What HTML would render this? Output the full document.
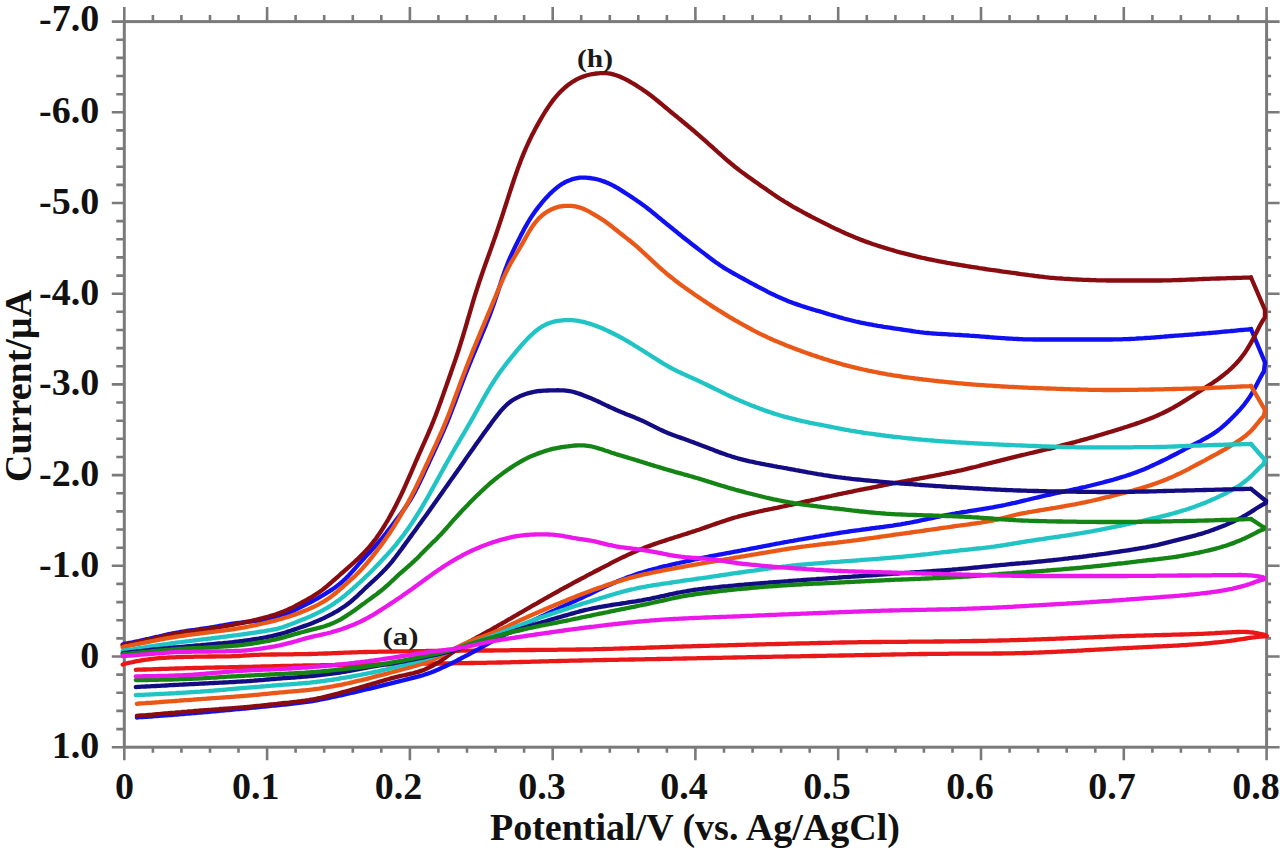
<!DOCTYPE html>
<html><head><meta charset="utf-8"><style>
html,body{margin:0;padding:0;background:#fff;}
svg{display:block}
.t{font-family:"Liberation Serif",serif;font-weight:bold;font-size:38px;fill:#111}
.ti{font-family:"Liberation Serif",serif;font-weight:bold;font-size:38px;fill:#111}
.lb{font-family:"Liberation Serif",serif;font-weight:bold;font-size:25px;fill:#1a1a1a}
</style></head><body>
<svg width="1280" height="852" viewBox="0 0 1280 852">
<rect width="1280" height="852" fill="#fff"/>
<g>
<rect x="124.3" y="21.6" width="1142.3" height="725.6" fill="none" stroke="#7a7a7a" stroke-width="3"/>
<path d="M124.3,747.2V760.2 M124.3,21.6V7.1 M152.9,747.2V752.7 M152.9,21.6V15.1 M181.4,747.2V752.7 M181.4,21.6V15.1 M210.0,747.2V752.7 M210.0,21.6V15.1 M238.5,747.2V752.7 M238.5,21.6V15.1 M267.1,747.2V760.2 M267.1,21.6V7.1 M295.6,747.2V752.7 M295.6,21.6V15.1 M324.2,747.2V752.7 M324.2,21.6V15.1 M352.8,747.2V752.7 M352.8,21.6V15.1 M381.3,747.2V752.7 M381.3,21.6V15.1 M409.9,747.2V760.2 M409.9,21.6V7.1 M438.4,747.2V752.7 M438.4,21.6V15.1 M467.0,747.2V752.7 M467.0,21.6V15.1 M495.5,747.2V752.7 M495.5,21.6V15.1 M524.1,747.2V752.7 M524.1,21.6V15.1 M552.7,747.2V760.2 M552.7,21.6V7.1 M581.2,747.2V752.7 M581.2,21.6V15.1 M609.8,747.2V752.7 M609.8,21.6V15.1 M638.3,747.2V752.7 M638.3,21.6V15.1 M666.9,747.2V752.7 M666.9,21.6V15.1 M695.4,747.2V760.2 M695.4,21.6V7.1 M724.0,747.2V752.7 M724.0,21.6V15.1 M752.6,747.2V752.7 M752.6,21.6V15.1 M781.1,747.2V752.7 M781.1,21.6V15.1 M809.7,747.2V752.7 M809.7,21.6V15.1 M838.2,747.2V760.2 M838.2,21.6V7.1 M866.8,747.2V752.7 M866.8,21.6V15.1 M895.4,747.2V752.7 M895.4,21.6V15.1 M923.9,747.2V752.7 M923.9,21.6V15.1 M952.5,747.2V752.7 M952.5,21.6V15.1 M981.0,747.2V760.2 M981.0,21.6V7.1 M1009.6,747.2V752.7 M1009.6,21.6V15.1 M1038.1,747.2V752.7 M1038.1,21.6V15.1 M1066.7,747.2V752.7 M1066.7,21.6V15.1 M1095.3,747.2V752.7 M1095.3,21.6V15.1 M1123.8,747.2V760.2 M1123.8,21.6V7.1 M1152.4,747.2V752.7 M1152.4,21.6V15.1 M1180.9,747.2V752.7 M1180.9,21.6V15.1 M1209.5,747.2V752.7 M1209.5,21.6V15.1 M1238.0,747.2V752.7 M1238.0,21.6V15.1 M1266.6,747.2V760.2 M1266.6,21.6V7.1 M124.3,21.6H111.8 M1266.6,21.6H1279.6 M124.3,39.7H116.3 M1266.6,39.7H1271.1 M124.3,57.9H116.3 M1266.6,57.9H1271.1 M124.3,76.0H116.3 M1266.6,76.0H1271.1 M124.3,94.2H116.3 M1266.6,94.2H1271.1 M124.3,112.3H111.8 M1266.6,112.3H1279.6 M124.3,130.4H116.3 M1266.6,130.4H1271.1 M124.3,148.6H116.3 M1266.6,148.6H1271.1 M124.3,166.7H116.3 M1266.6,166.7H1271.1 M124.3,184.9H116.3 M1266.6,184.9H1271.1 M124.3,203.0H111.8 M1266.6,203.0H1279.6 M124.3,221.1H116.3 M1266.6,221.1H1271.1 M124.3,239.3H116.3 M1266.6,239.3H1271.1 M124.3,257.4H116.3 M1266.6,257.4H1271.1 M124.3,275.6H116.3 M1266.6,275.6H1271.1 M124.3,293.7H111.8 M1266.6,293.7H1279.6 M124.3,311.8H116.3 M1266.6,311.8H1271.1 M124.3,330.0H116.3 M1266.6,330.0H1271.1 M124.3,348.1H116.3 M1266.6,348.1H1271.1 M124.3,366.3H116.3 M1266.6,366.3H1271.1 M124.3,384.4H111.8 M1266.6,384.4H1279.6 M124.3,402.5H116.3 M1266.6,402.5H1271.1 M124.3,420.7H116.3 M1266.6,420.7H1271.1 M124.3,438.8H116.3 M1266.6,438.8H1271.1 M124.3,457.0H116.3 M1266.6,457.0H1271.1 M124.3,475.1H111.8 M1266.6,475.1H1279.6 M124.3,493.2H116.3 M1266.6,493.2H1271.1 M124.3,511.4H116.3 M1266.6,511.4H1271.1 M124.3,529.5H116.3 M1266.6,529.5H1271.1 M124.3,547.7H116.3 M1266.6,547.7H1271.1 M124.3,565.8H111.8 M1266.6,565.8H1279.6 M124.3,583.9H116.3 M1266.6,583.9H1271.1 M124.3,602.1H116.3 M1266.6,602.1H1271.1 M124.3,620.2H116.3 M1266.6,620.2H1271.1 M124.3,638.4H116.3 M1266.6,638.4H1271.1 M124.3,656.5H111.8 M1266.6,656.5H1279.6 M124.3,674.6H116.3 M1266.6,674.6H1271.1 M124.3,692.8H116.3 M1266.6,692.8H1271.1 M124.3,710.9H116.3 M1266.6,710.9H1271.1 M124.3,729.1H116.3 M1266.6,729.1H1271.1 M124.3,747.2H111.8 M1266.6,747.2H1279.6" stroke="#7a7a7a" stroke-width="2.6" fill="none"/>
<path d="M122.7 664.6L124.7 663.6L126.7 663.3L128.7 662.9L130.7 662.5L132.7 662.1L134.7 661.6L136.7 661.2L138.7 660.9L140.7 660.5L142.7 660.2L144.7 659.9L146.7 659.6L148.7 659.3L150.7 659.0L152.7 658.8L154.7 658.6L156.7 658.4L158.7 658.2L160.7 658.0L162.7 657.9L164.7 657.8L166.7 657.6L168.7 657.5L170.7 657.4L172.7 657.3L174.7 657.3L176.7 657.2L178.7 657.1L180.7 657.1L182.7 657.0L184.7 656.9L186.7 656.9L188.7 656.9L190.7 656.8L192.7 656.8L194.7 656.7L196.7 656.7L198.7 656.7L200.7 656.6L202.7 656.6L204.7 656.6L206.7 656.6L208.7 656.5L210.7 656.5L212.7 656.5L214.7 656.5L216.7 656.4L218.7 656.4L220.7 656.4L222.7 656.4L224.7 656.4L226.7 656.3L228.7 656.3L230.7 656.3L232.7 656.2L234.7 656.2L236.7 656.1L238.7 656.0L240.7 655.8L242.7 655.7L244.7 655.5L246.7 655.4L248.7 655.3L250.7 655.1L252.7 655.0L254.7 654.9L256.7 654.9L258.7 654.8L260.7 654.7L262.7 654.7L264.7 654.6L266.7 654.6L268.7 654.6L270.7 654.5L272.7 654.5L274.7 654.5L276.7 654.5L278.7 654.4L280.7 654.4L282.7 654.4L284.7 654.4L286.7 654.3L288.7 654.3L290.7 654.3L292.7 654.3L294.7 654.2L296.7 654.2L298.7 654.2L300.7 654.2L302.7 654.1L304.7 654.1L306.7 654.1L308.7 654.0L310.7 654.0L312.7 653.9L314.7 653.9L316.7 653.8L318.7 653.7L320.7 653.7L322.7 653.6L324.7 653.5L326.7 653.5L328.7 653.4L330.7 653.3L332.7 653.2L334.7 653.2L336.7 653.1L338.7 653.0L340.7 652.9L342.7 652.8L344.7 652.7L346.7 652.7L348.7 652.6L350.7 652.5L352.7 652.4L354.7 652.4L356.7 652.3L358.7 652.2L360.7 652.2L362.7 652.1L364.7 652.0L366.7 652.0L368.7 651.9L370.7 651.9L372.7 651.9L374.7 651.8L376.7 651.8L378.7 651.7L380.7 651.7L382.7 651.7L384.7 651.6L386.7 651.6L388.7 651.6L390.7 651.5L392.7 651.5L394.7 651.5L396.7 651.4L398.7 651.4L400.7 651.4L402.7 651.3L404.7 651.3L406.7 651.3L408.7 651.3L410.7 651.2L412.7 651.2L414.7 651.2L416.7 651.2L418.7 651.1L420.7 651.1L422.7 651.1L424.7 651.1L426.7 651.0L428.7 651.0L430.7 651.0L432.7 651.0L434.7 651.0L436.7 650.9L438.7 650.9L440.7 650.9L442.7 650.9L444.7 650.9L446.7 650.8L448.7 650.8L450.7 650.8L452.7 650.8L454.7 650.8L456.7 650.8L458.7 650.8L460.7 650.7L462.7 650.7L464.7 650.7L466.7 650.7L468.7 650.7L470.7 650.7L472.7 650.6L474.7 650.6L476.7 650.6L478.7 650.6L480.7 650.6L482.7 650.6L484.7 650.5L486.7 650.5L488.7 650.5L490.7 650.5L492.7 650.5L494.7 650.4L496.7 650.4L498.7 650.4L500.7 650.4L502.7 650.3L504.7 650.3L506.7 650.3L508.7 650.3L510.7 650.2L512.7 650.2L514.7 650.2L516.7 650.2L518.7 650.1L520.7 650.1L522.7 650.1L524.7 650.1L526.7 650.0L528.7 650.0L530.7 650.0L532.7 650.0L534.7 650.0L536.7 649.9L538.7 649.9L540.7 649.9L542.7 649.9L544.7 649.9L546.7 649.8L548.7 649.8L550.7 649.8L552.7 649.8L554.7 649.8L556.7 649.8L558.7 649.7L560.7 649.7L562.7 649.7L564.7 649.7L566.7 649.7L568.7 649.6L570.7 649.6L572.7 649.6L574.7 649.6L576.7 649.5L578.7 649.5L580.7 649.5L582.7 649.4L584.7 649.4L586.7 649.4L588.7 649.3L590.7 649.3L592.7 649.3L594.7 649.2L596.7 649.2L598.7 649.1L600.7 649.1L602.7 649.0L604.7 649.0L606.7 648.9L608.7 648.9L610.7 648.8L612.7 648.8L614.7 648.7L616.7 648.7L618.7 648.6L620.7 648.5L622.7 648.5L624.7 648.4L626.7 648.3L628.7 648.3L630.7 648.2L632.7 648.2L634.7 648.1L636.7 648.0L638.7 648.0L640.7 647.9L642.7 647.8L644.7 647.8L646.7 647.7L648.7 647.6L650.7 647.5L652.7 647.5L654.7 647.4L656.7 647.3L658.7 647.3L660.7 647.2L662.7 647.1L664.7 647.1L666.7 647.0L668.7 646.9L670.7 646.9L672.7 646.8L674.7 646.7L676.7 646.7L678.7 646.6L680.7 646.6L682.7 646.5L684.7 646.4L686.7 646.4L688.7 646.3L690.7 646.3L692.7 646.2L694.7 646.1L696.7 646.1L698.7 646.0L700.7 646.0L702.7 645.9L704.7 645.9L706.7 645.8L708.7 645.8L710.7 645.7L712.7 645.6L714.7 645.6L716.7 645.5L718.7 645.5L720.7 645.4L722.7 645.4L724.7 645.3L726.7 645.3L728.7 645.2L730.7 645.2L732.7 645.1L734.7 645.1L736.7 645.0L738.7 644.9L740.7 644.9L742.7 644.8L744.7 644.8L746.7 644.7L748.7 644.7L750.7 644.6L752.7 644.6L754.7 644.5L756.7 644.5L758.7 644.4L760.7 644.4L762.7 644.3L764.7 644.3L766.7 644.2L768.7 644.2L770.7 644.1L772.7 644.1L774.7 644.1L776.7 644.0L778.7 644.0L780.7 643.9L782.7 643.9L784.7 643.8L786.7 643.8L788.7 643.7L790.7 643.7L792.7 643.6L794.7 643.6L796.7 643.5L798.7 643.5L800.7 643.4L802.7 643.4L804.7 643.3L806.7 643.3L808.7 643.3L810.7 643.2L812.7 643.2L814.7 643.1L816.7 643.1L818.7 643.0L820.7 643.0L822.7 642.9L824.7 642.9L826.7 642.8L828.7 642.8L830.7 642.8L832.7 642.7L834.7 642.7L836.7 642.6L838.7 642.6L840.7 642.5L842.7 642.5L844.7 642.5L846.7 642.4L848.7 642.4L850.7 642.4L852.7 642.3L854.7 642.3L856.7 642.3L858.7 642.2L860.7 642.2L862.7 642.2L864.7 642.1L866.7 642.1L868.7 642.1L870.7 642.1L872.7 642.0L874.7 642.0L876.7 642.0L878.7 642.0L880.7 642.0L882.7 641.9L884.7 641.9L886.7 641.9L888.7 641.9L890.7 641.9L892.7 641.8L894.7 641.8L896.7 641.8L898.7 641.8L900.7 641.8L902.7 641.8L904.7 641.8L906.7 641.8L908.7 641.7L910.7 641.7L912.7 641.7L914.7 641.7L916.7 641.7L918.7 641.7L920.7 641.7L922.7 641.6L924.7 641.6L926.7 641.6L928.7 641.6L930.7 641.6L932.7 641.6L934.7 641.5L936.7 641.5L938.7 641.5L940.7 641.5L942.7 641.5L944.7 641.4L946.7 641.4L948.7 641.4L950.7 641.4L952.7 641.3L954.7 641.3L956.7 641.3L958.7 641.3L960.7 641.2L962.7 641.2L964.7 641.2L966.7 641.1L968.7 641.1L970.7 641.1L972.7 641.0L974.7 641.0L976.7 641.0L978.7 640.9L980.7 640.9L982.7 640.9L984.7 640.8L986.7 640.8L988.7 640.7L990.7 640.7L992.7 640.7L994.7 640.6L996.7 640.6L998.7 640.5L1000.7 640.5L1002.7 640.4L1004.7 640.4L1006.7 640.3L1008.7 640.3L1010.7 640.2L1012.7 640.2L1014.7 640.1L1016.7 640.1L1018.7 640.0L1020.7 639.9L1022.7 639.9L1024.7 639.8L1026.7 639.8L1028.7 639.7L1030.7 639.6L1032.7 639.6L1034.7 639.5L1036.7 639.4L1038.7 639.4L1040.7 639.3L1042.7 639.2L1044.7 639.1L1046.7 639.1L1048.7 639.0L1050.7 638.9L1052.7 638.8L1054.7 638.8L1056.7 638.7L1058.7 638.6L1060.7 638.5L1062.7 638.5L1064.7 638.4L1066.7 638.3L1068.7 638.2L1070.7 638.1L1072.7 638.1L1074.7 638.0L1076.7 637.9L1078.7 637.8L1080.7 637.7L1082.7 637.7L1084.7 637.6L1086.7 637.5L1088.7 637.4L1090.7 637.3L1092.7 637.3L1094.7 637.2L1096.7 637.1L1098.7 637.0L1100.7 637.0L1102.7 636.9L1104.7 636.8L1106.7 636.7L1108.7 636.7L1110.7 636.6L1112.7 636.5L1114.7 636.4L1116.7 636.4L1118.7 636.3L1120.7 636.2L1122.7 636.2L1124.7 636.1L1126.7 636.0L1128.7 636.0L1130.7 635.9L1132.7 635.9L1134.7 635.8L1136.7 635.7L1138.7 635.7L1140.7 635.6L1142.7 635.6L1144.7 635.5L1146.7 635.4L1148.7 635.4L1150.7 635.3L1152.7 635.3L1154.7 635.2L1156.7 635.2L1158.7 635.1L1160.7 635.1L1162.7 635.0L1164.7 635.0L1166.7 634.9L1168.7 634.9L1170.7 634.8L1172.7 634.7L1174.7 634.7L1176.7 634.6L1178.7 634.6L1180.7 634.5L1182.7 634.5L1184.7 634.4L1186.7 634.3L1188.7 634.3L1190.7 634.2L1192.7 634.1L1194.7 634.1L1196.7 634.0L1198.7 633.9L1200.7 633.8L1202.7 633.8L1204.7 633.7L1206.7 633.6L1208.7 633.5L1210.7 633.4L1212.7 633.3L1214.7 633.2L1216.7 633.0L1218.7 632.9L1220.7 632.8L1222.7 632.7L1224.7 632.6L1226.7 632.5L1228.7 632.4L1230.7 632.3L1232.7 632.2L1234.7 632.1L1236.7 632.0L1238.7 632.0L1240.7 631.9L1242.7 631.9L1244.7 631.9L1246.7 632.0L1248.7 632.1L1250.7 632.3L1252.7 632.5L1254.7 632.8L1256.7 633.2L1258.7 633.6L1260.7 634.0L1262.7 634.4L1264.7 634.8L1266.6 635.9" stroke="#e81818" stroke-width="4.3" fill="none" stroke-linejoin="round" stroke-linecap="round"/>
<path d="M1266.6 635.9L1265.8 636.2L1263.8 636.3L1261.8 636.5L1259.8 636.7L1257.8 636.9L1255.8 637.1L1253.8 637.4L1251.8 637.6L1249.8 637.9L1247.8 638.2L1245.8 638.5L1243.8 638.8L1241.8 639.1L1239.8 639.4L1237.8 639.7L1235.8 640.0L1233.8 640.3L1231.8 640.6L1229.8 640.9L1227.8 641.1L1225.8 641.4L1223.8 641.6L1221.8 641.9L1219.8 642.1L1217.8 642.3L1215.8 642.5L1213.8 642.7L1211.8 642.9L1209.8 643.1L1207.8 643.3L1205.8 643.5L1203.8 643.7L1201.8 643.8L1199.8 644.0L1197.8 644.1L1195.8 644.3L1193.8 644.4L1191.8 644.6L1189.8 644.7L1187.8 644.8L1185.8 645.0L1183.8 645.1L1181.8 645.2L1179.8 645.3L1177.8 645.5L1175.8 645.6L1173.8 645.7L1171.8 645.8L1169.8 645.9L1167.8 646.0L1165.8 646.1L1163.8 646.2L1161.8 646.3L1159.8 646.4L1157.8 646.5L1155.8 646.6L1153.8 646.7L1151.8 646.8L1149.8 646.9L1147.8 647.0L1145.8 647.1L1143.8 647.2L1141.8 647.3L1139.8 647.4L1137.8 647.5L1135.8 647.6L1133.8 647.7L1131.8 647.8L1129.8 647.9L1127.8 648.0L1125.8 648.1L1123.8 648.2L1121.8 648.3L1119.8 648.4L1117.8 648.5L1115.8 648.6L1113.8 648.7L1111.8 648.8L1109.8 648.9L1107.8 649.0L1105.8 649.1L1103.8 649.3L1101.8 649.4L1099.8 649.5L1097.8 649.6L1095.8 649.7L1093.8 649.8L1091.8 649.9L1089.8 650.0L1087.8 650.1L1085.8 650.2L1083.8 650.3L1081.8 650.5L1079.8 650.6L1077.8 650.7L1075.8 650.8L1073.8 650.9L1071.8 651.0L1069.8 651.1L1067.8 651.2L1065.8 651.3L1063.8 651.4L1061.8 651.5L1059.8 651.6L1057.8 651.7L1055.8 651.8L1053.8 651.9L1051.8 652.0L1049.8 652.1L1047.8 652.2L1045.8 652.2L1043.8 652.3L1041.8 652.4L1039.8 652.5L1037.8 652.6L1035.8 652.6L1033.8 652.7L1031.8 652.8L1029.8 652.8L1027.8 652.9L1025.8 653.0L1023.8 653.0L1021.8 653.1L1019.8 653.1L1017.8 653.2L1015.8 653.2L1013.8 653.3L1011.8 653.3L1009.8 653.4L1007.8 653.4L1005.8 653.4L1003.8 653.4L1001.8 653.5L999.8 653.5L997.8 653.5L995.8 653.5L993.8 653.5L991.8 653.6L989.8 653.6L987.8 653.6L985.8 653.6L983.8 653.6L981.8 653.6L979.8 653.6L977.8 653.6L975.8 653.6L973.8 653.6L971.8 653.6L969.8 653.7L967.8 653.7L965.8 653.7L963.8 653.7L961.8 653.7L959.8 653.7L957.8 653.7L955.8 653.7L953.8 653.7L951.8 653.7L949.8 653.7L947.8 653.8L945.8 653.8L943.8 653.8L941.8 653.8L939.8 653.8L937.8 653.8L935.8 653.8L933.8 653.9L931.8 653.9L929.8 653.9L927.8 653.9L925.8 654.0L923.8 654.0L921.8 654.0L919.8 654.0L917.8 654.1L915.8 654.1L913.8 654.1L911.8 654.2L909.8 654.2L907.8 654.2L905.8 654.3L903.8 654.3L901.8 654.3L899.8 654.4L897.8 654.4L895.8 654.4L893.8 654.5L891.8 654.5L889.8 654.6L887.8 654.6L885.8 654.6L883.8 654.7L881.8 654.7L879.8 654.8L877.8 654.8L875.8 654.8L873.8 654.9L871.8 654.9L869.8 655.0L867.8 655.0L865.8 655.0L863.8 655.1L861.8 655.1L859.8 655.2L857.8 655.2L855.8 655.2L853.8 655.3L851.8 655.3L849.8 655.3L847.8 655.4L845.8 655.4L843.8 655.5L841.8 655.5L839.8 655.5L837.8 655.6L835.8 655.6L833.8 655.6L831.8 655.7L829.8 655.7L827.8 655.7L825.8 655.8L823.8 655.8L821.8 655.9L819.8 655.9L817.8 655.9L815.8 656.0L813.8 656.0L811.8 656.0L809.8 656.1L807.8 656.1L805.8 656.1L803.8 656.2L801.8 656.2L799.8 656.3L797.8 656.3L795.8 656.3L793.8 656.4L791.8 656.4L789.8 656.4L787.8 656.5L785.8 656.5L783.8 656.6L781.8 656.6L779.8 656.6L777.8 656.7L775.8 656.7L773.8 656.7L771.8 656.8L769.8 656.8L767.8 656.9L765.8 656.9L763.8 656.9L761.8 657.0L759.8 657.0L757.8 657.0L755.8 657.1L753.8 657.1L751.8 657.2L749.8 657.2L747.8 657.2L745.8 657.3L743.8 657.3L741.8 657.4L739.8 657.4L737.8 657.4L735.8 657.5L733.8 657.5L731.8 657.6L729.8 657.6L727.8 657.6L725.8 657.7L723.8 657.7L721.8 657.8L719.8 657.8L717.8 657.8L715.8 657.9L713.8 657.9L711.8 658.0L709.8 658.0L707.8 658.0L705.8 658.1L703.8 658.1L701.8 658.2L699.8 658.2L697.8 658.2L695.8 658.3L693.8 658.3L691.8 658.4L689.8 658.4L687.8 658.4L685.8 658.5L683.8 658.5L681.8 658.6L679.8 658.6L677.8 658.6L675.8 658.7L673.8 658.7L671.8 658.8L669.8 658.8L667.8 658.8L665.8 658.9L663.8 658.9L661.8 658.9L659.8 659.0L657.8 659.0L655.8 659.1L653.8 659.1L651.8 659.1L649.8 659.2L647.8 659.2L645.8 659.2L643.8 659.3L641.8 659.3L639.8 659.4L637.8 659.4L635.8 659.4L633.8 659.5L631.8 659.5L629.8 659.5L627.8 659.6L625.8 659.6L623.8 659.7L621.8 659.7L619.8 659.7L617.8 659.8L615.8 659.8L613.8 659.8L611.8 659.9L609.8 659.9L607.8 659.9L605.8 660.0L603.8 660.0L601.8 660.1L599.8 660.1L597.8 660.1L595.8 660.2L593.8 660.2L591.8 660.3L589.8 660.3L587.8 660.3L585.8 660.4L583.8 660.4L581.8 660.5L579.8 660.5L577.8 660.6L575.8 660.6L573.8 660.6L571.8 660.7L569.8 660.7L567.8 660.8L565.8 660.8L563.8 660.9L561.8 660.9L559.8 661.0L557.8 661.0L555.8 661.1L553.8 661.1L551.8 661.2L549.8 661.2L547.8 661.3L545.8 661.3L543.8 661.4L541.8 661.4L539.8 661.5L537.8 661.6L535.8 661.6L533.8 661.7L531.8 661.7L529.8 661.8L527.8 661.8L525.8 661.9L523.8 661.9L521.8 662.0L519.8 662.0L517.8 662.1L515.8 662.1L513.8 662.2L511.8 662.2L509.8 662.3L507.8 662.3L505.8 662.4L503.8 662.4L501.8 662.5L499.8 662.5L497.8 662.5L495.8 662.6L493.8 662.6L491.8 662.7L489.8 662.7L487.8 662.7L485.8 662.8L483.8 662.8L481.8 662.8L479.8 662.9L477.8 662.9L475.8 662.9L473.8 663.0L471.8 663.0L469.8 663.0L467.8 663.1L465.8 663.1L463.8 663.1L461.8 663.1L459.8 663.2L457.8 663.2L455.8 663.2L453.8 663.3L451.8 663.3L449.8 663.3L447.8 663.4L445.8 663.4L443.8 663.4L441.8 663.5L439.8 663.5L437.8 663.5L435.8 663.5L433.8 663.6L431.8 663.6L429.8 663.6L427.8 663.7L425.8 663.7L423.8 663.7L421.8 663.8L419.8 663.8L417.8 663.8L415.8 663.9L413.8 663.9L411.8 663.9L409.8 664.0L407.8 664.0L405.8 664.0L403.8 664.1L401.8 664.1L399.8 664.1L397.8 664.2L395.8 664.2L393.8 664.2L391.8 664.3L389.8 664.3L387.8 664.3L385.8 664.4L383.8 664.4L381.8 664.4L379.8 664.5L377.8 664.5L375.8 664.5L373.8 664.5L371.8 664.6L369.8 664.6L367.8 664.6L365.8 664.7L363.8 664.7L361.8 664.7L359.8 664.7L357.8 664.8L355.8 664.8L353.8 664.8L351.8 664.8L349.8 664.9L347.8 664.9L345.8 664.9L343.8 664.9L341.8 665.0L339.8 665.0L337.8 665.0L335.8 665.0L333.8 665.1L331.8 665.1L329.8 665.1L327.8 665.1L325.8 665.2L323.8 665.2L321.8 665.2L319.8 665.3L317.8 665.3L315.8 665.3L313.8 665.3L311.8 665.4L309.8 665.4L307.8 665.4L305.8 665.5L303.8 665.5L301.8 665.6L299.8 665.6L297.8 665.6L295.8 665.7L293.8 665.7L291.8 665.8L289.8 665.8L287.8 665.9L285.8 665.9L283.8 666.0L281.8 666.0L279.8 666.1L277.8 666.1L275.8 666.2L273.8 666.2L271.8 666.3L269.8 666.3L267.8 666.4L265.8 666.4L263.8 666.5L261.8 666.5L259.8 666.6L257.8 666.6L255.8 666.7L253.8 666.7L251.8 666.8L249.8 666.8L247.8 666.8L245.8 666.9L243.8 666.9L241.8 667.0L239.8 667.0L237.8 667.1L235.8 667.1L233.8 667.1L231.8 667.2L229.8 667.2L227.8 667.3L225.8 667.3L223.8 667.4L221.8 667.4L219.8 667.4L217.8 667.5L215.8 667.5L213.8 667.6L211.8 667.6L209.8 667.7L207.8 667.7L205.8 667.7L203.8 667.8L201.8 667.8L199.8 667.9L197.8 667.9L195.8 668.0L193.8 668.0L191.8 668.1L189.8 668.1L187.8 668.2L185.8 668.2L183.8 668.3L181.8 668.4L179.8 668.4L177.8 668.5L175.8 668.5L173.8 668.6L171.8 668.6L169.8 668.7L167.8 668.8L165.8 668.8L163.8 668.9L161.8 668.9L159.8 669.0L157.8 669.1L155.8 669.1L153.8 669.2L151.8 669.3L149.8 669.3L147.8 669.4L145.8 669.5L143.8 669.5L141.8 669.6L139.8 669.6L137.8 669.7L135.8 669.8" stroke="#e81818" stroke-width="4.3" fill="none" stroke-linejoin="round" stroke-linecap="round"/>
<path d="M122.7 644.5L124.7 643.7L126.7 643.4L128.7 643.0L130.7 642.7L132.7 642.3L134.7 641.8L136.7 641.4L138.7 641.0L140.7 640.5L142.7 640.1L144.7 639.7L146.7 639.2L148.7 638.8L150.7 638.3L152.7 637.9L154.7 637.4L156.7 636.9L158.7 636.5L160.7 636.0L162.7 635.6L164.7 635.1L166.7 634.7L168.7 634.2L170.7 633.8L172.7 633.4L174.7 633.0L176.7 632.6L178.7 632.3L180.7 631.9L182.7 631.6L184.7 631.3L186.7 631.0L188.7 630.7L190.7 630.4L192.7 630.1L194.7 629.9L196.7 629.6L198.7 629.3L200.7 629.0L202.7 628.7L204.7 628.4L206.7 628.1L208.7 627.8L210.7 627.5L212.7 627.2L214.7 626.8L216.7 626.5L218.7 626.1L220.7 625.7L222.7 625.4L224.7 625.0L226.7 624.7L228.7 624.3L230.7 624.0L232.7 623.7L234.7 623.4L236.7 623.1L238.7 622.8L240.7 622.6L242.7 622.3L244.7 622.1L246.7 621.9L248.7 621.7L250.7 621.5L252.7 621.3L254.7 621.1L256.7 620.9L258.7 620.7L260.7 620.4L262.7 620.2L264.7 619.9L266.7 619.5L268.7 619.1L270.7 618.7L272.7 618.3L274.7 617.8L276.7 617.2L278.7 616.6L280.7 616.0L282.7 615.3L284.7 614.5L286.7 613.7L288.7 612.8L290.7 611.9L292.7 611.0L294.7 610.1L296.7 609.1L298.7 608.1L300.7 607.1L302.7 606.1L304.7 605.1L306.7 604.1L308.7 603.1L310.7 602.0L312.7 601.0L314.7 599.9L316.7 598.8L318.7 597.6L320.7 596.5L322.7 595.3L324.7 594.2L326.7 592.9L328.7 591.7L330.7 590.4L332.7 589.1L334.7 587.7L336.7 586.2L338.7 584.6L340.7 583.0L342.7 581.3L344.2 579.9L345.7 578.4L347.2 576.9L348.7 575.4L350.2 573.8L351.7 572.1L353.2 570.5L354.7 568.8L356.2 567.1L357.7 565.4L359.2 563.7L360.7 562.0L362.2 560.3L363.7 558.7L365.2 557.1L366.7 555.4L368.2 553.8L369.7 552.2L371.2 550.6L372.7 548.9L374.2 547.3L375.7 545.6L377.2 543.9L378.7 542.2L380.2 540.4L381.7 538.7L383.2 536.8L384.7 535.0L386.2 533.1L387.7 531.1L389.2 529.2L390.7 527.2L392.2 525.2L393.7 523.2L395.2 521.2L396.7 519.3L398.2 517.3L399.7 515.3L401.2 513.3L402.7 511.2L404.2 509.1L405.7 507.0L407.2 504.7L408.7 502.4L410.2 500.0L411.7 497.5L412.7 495.8L413.7 494.0L414.7 492.2L415.7 490.3L416.7 488.3L417.7 486.4L418.7 484.4L419.7 482.3L420.7 480.2L421.7 478.1L422.7 476.0L423.7 473.9L424.7 471.7L425.7 469.6L426.7 467.4L427.7 465.3L428.7 463.1L429.7 460.9L430.7 458.8L431.7 456.6L432.7 454.5L433.7 452.3L434.7 450.2L435.7 448.0L436.7 445.9L437.7 443.7L438.7 441.5L439.7 439.4L440.7 437.1L441.7 434.9L442.7 432.7L443.7 430.4L444.7 428.0L445.7 425.7L446.7 423.3L447.7 420.9L448.7 418.4L449.7 415.9L450.7 413.3L451.7 410.8L452.7 408.1L453.7 405.5L454.7 402.9L455.7 400.2L456.7 397.5L457.7 394.8L458.7 392.1L459.7 389.5L460.7 386.8L461.7 384.2L462.7 381.5L463.7 378.9L464.7 376.3L465.7 373.8L466.7 371.2L467.7 368.7L468.7 366.2L469.7 363.7L470.7 361.3L471.7 358.8L472.7 356.4L473.7 354.0L474.7 351.6L475.7 349.2L476.7 346.8L477.7 344.4L478.7 342.1L479.7 339.7L480.7 337.3L481.7 334.9L482.7 332.5L483.7 330.1L484.7 327.7L485.7 325.3L486.7 322.8L487.7 320.3L488.7 317.8L489.7 315.2L490.7 312.6L491.7 309.8L492.7 307.1L493.7 304.2L494.7 301.3L495.7 298.4L496.7 295.3L497.7 292.3L498.7 289.2L499.7 286.1L500.7 283.1L501.7 280.0L502.7 277.0L503.7 274.1L504.7 271.3L505.7 268.5L506.7 265.9L507.7 263.3L508.7 260.9L509.7 258.5L510.7 256.3L511.7 254.1L512.7 251.9L513.7 249.8L514.7 247.8L515.7 245.7L516.7 243.7L517.7 241.7L518.7 239.7L519.7 237.7L520.7 235.8L521.7 233.8L522.7 231.9L523.7 230.0L524.7 228.1L525.7 226.3L526.7 224.6L528.2 222.0L529.7 219.5L531.2 217.2L532.7 214.9L534.2 212.7L535.7 210.6L537.2 208.6L538.7 206.7L540.2 204.8L541.7 202.9L543.2 201.2L544.7 199.4L546.2 197.8L547.7 196.2L549.2 194.6L550.7 193.1L552.2 191.7L553.7 190.3L555.7 188.6L557.7 187.0L559.7 185.6L561.7 184.2L563.7 183.0L565.7 181.9L567.7 181.0L569.7 180.2L571.7 179.4L573.7 178.8L575.7 178.4L577.7 178.0L579.7 177.7L581.7 177.6L583.7 177.6L585.7 177.6L587.7 177.8L589.7 178.0L591.7 178.3L593.7 178.6L595.7 179.0L597.7 179.5L599.7 180.0L601.7 180.7L603.7 181.4L605.7 182.1L607.7 183.0L609.7 183.9L611.7 184.9L613.7 185.9L615.7 187.0L617.7 188.2L619.7 189.4L621.7 190.6L623.7 191.9L625.7 193.2L627.7 194.5L629.7 195.8L631.7 197.1L633.7 198.5L635.7 199.8L637.7 201.2L639.7 202.6L641.7 204.0L643.7 205.4L645.7 206.9L647.7 208.5L649.7 210.0L651.7 211.6L653.7 213.3L655.7 214.9L657.7 216.6L659.7 218.2L661.7 219.9L663.7 221.5L665.7 223.1L667.7 224.8L669.7 226.4L671.7 228.0L673.7 229.6L675.7 231.2L677.7 232.9L679.7 234.5L681.7 236.1L683.7 237.7L685.7 239.3L687.7 240.8L689.7 242.4L691.7 244.0L693.7 245.5L695.7 247.0L697.7 248.6L699.7 250.1L701.7 251.6L703.7 253.1L705.7 254.6L707.7 256.2L709.7 257.7L711.7 259.2L713.7 260.7L715.7 262.2L717.7 263.6L719.7 265.0L721.7 266.3L723.7 267.6L725.7 268.8L727.7 270.0L729.7 271.2L731.7 272.4L733.7 273.5L735.7 274.6L737.7 275.7L739.7 276.8L741.7 277.9L743.7 279.0L745.7 280.1L747.7 281.2L749.7 282.3L751.7 283.4L753.7 284.4L755.7 285.5L757.7 286.6L759.7 287.6L761.7 288.7L763.7 289.7L765.7 290.7L767.7 291.8L769.7 292.8L771.7 293.8L773.7 294.7L775.7 295.7L777.7 296.6L779.7 297.5L781.7 298.4L783.7 299.3L785.7 300.1L787.7 300.9L789.7 301.7L791.7 302.4L793.7 303.2L795.7 303.9L797.7 304.6L799.7 305.3L801.7 306.0L803.7 306.6L805.7 307.2L807.7 307.9L809.7 308.5L811.7 309.1L813.7 309.7L815.7 310.3L817.7 310.8L819.7 311.4L821.7 312.0L823.7 312.6L825.7 313.2L827.7 313.9L829.7 314.5L831.7 315.0L833.7 315.6L835.7 316.2L837.7 316.8L839.7 317.4L841.7 317.9L843.7 318.5L845.7 319.0L847.7 319.5L849.7 320.0L851.7 320.5L853.7 321.0L855.7 321.5L857.7 321.9L859.7 322.4L861.7 322.8L863.7 323.2L865.7 323.6L867.7 324.0L869.7 324.3L871.7 324.7L873.7 325.1L875.7 325.4L877.7 325.8L879.7 326.1L881.7 326.4L883.7 326.8L885.7 327.1L887.7 327.4L889.7 327.7L891.7 328.0L893.7 328.3L895.7 328.6L897.7 328.9L899.7 329.2L901.7 329.5L903.7 329.8L905.7 330.1L907.7 330.4L909.7 330.7L911.7 331.0L913.7 331.3L915.7 331.6L917.7 331.8L919.7 332.1L921.7 332.3L923.7 332.6L925.7 332.8L927.7 333.0L929.7 333.2L931.7 333.3L933.7 333.5L935.7 333.6L937.7 333.8L939.7 333.9L941.7 334.0L943.7 334.1L945.7 334.2L947.7 334.3L949.7 334.5L951.7 334.6L953.7 334.7L955.7 334.8L957.7 334.9L959.7 335.0L961.7 335.1L963.7 335.3L965.7 335.4L967.7 335.5L969.7 335.7L971.7 335.8L973.7 335.9L975.7 336.1L977.7 336.2L979.7 336.4L981.7 336.6L983.7 336.7L985.7 336.9L987.7 337.0L989.7 337.2L991.7 337.3L993.7 337.5L995.7 337.6L997.7 337.8L999.7 337.9L1001.7 338.1L1003.7 338.2L1005.7 338.4L1007.7 338.5L1009.7 338.6L1011.7 338.7L1013.7 338.8L1015.7 338.9L1017.7 339.0L1019.7 339.1L1021.7 339.2L1023.7 339.3L1025.7 339.3L1027.7 339.4L1029.7 339.4L1031.7 339.4L1033.7 339.5L1035.7 339.5L1037.7 339.5L1039.7 339.5L1041.7 339.5L1043.7 339.5L1045.7 339.5L1047.7 339.5L1049.7 339.5L1051.7 339.5L1053.7 339.5L1055.7 339.5L1057.7 339.5L1059.7 339.5L1061.7 339.5L1063.7 339.5L1065.7 339.5L1067.7 339.5L1069.7 339.5L1071.7 339.5L1073.7 339.5L1075.7 339.5L1077.7 339.5L1079.7 339.5L1081.7 339.5L1083.7 339.5L1085.7 339.5L1087.7 339.5L1089.7 339.5L1091.7 339.5L1093.7 339.5L1095.7 339.5L1097.7 339.5L1099.7 339.5L1101.7 339.5L1103.7 339.5L1105.7 339.5L1107.7 339.5L1109.7 339.5L1111.7 339.5L1113.7 339.4L1115.7 339.4L1117.7 339.4L1119.7 339.3L1121.7 339.3L1123.7 339.2L1125.7 339.1L1127.7 339.1L1129.7 339.0L1131.7 338.9L1133.7 338.8L1135.7 338.7L1137.7 338.5L1139.7 338.4L1141.7 338.3L1143.7 338.2L1145.7 338.0L1147.7 337.9L1149.7 337.8L1151.7 337.6L1153.7 337.5L1155.7 337.3L1157.7 337.1L1159.7 337.0L1161.7 336.8L1163.7 336.7L1165.7 336.5L1167.7 336.4L1169.7 336.2L1171.7 336.0L1173.7 335.9L1175.7 335.7L1177.7 335.6L1179.7 335.4L1181.7 335.3L1183.7 335.1L1185.7 334.9L1187.7 334.8L1189.7 334.6L1191.7 334.5L1193.7 334.3L1195.7 334.2L1197.7 334.0L1199.7 333.9L1201.7 333.7L1203.7 333.5L1205.7 333.3L1207.7 333.2L1209.7 333.0L1211.7 332.8L1213.7 332.6L1215.7 332.5L1217.7 332.3L1219.7 332.1L1221.7 331.9L1223.7 331.7L1225.7 331.5L1227.7 331.3L1229.7 331.2L1231.7 331.0L1233.7 330.8L1235.7 330.6L1237.7 330.4L1239.7 330.2L1241.7 330.0L1243.7 329.8L1245.7 329.6L1247.7 329.5L1249.7 329.3L1251.0 329.0" stroke="#1010f0" stroke-width="4.3" fill="none" stroke-linejoin="round" stroke-linecap="round"/>
<path d="M1251.0 329.0L1265.0 362.5" stroke="#1010f0" stroke-width="4.3" fill="none" stroke-linejoin="round" stroke-linecap="round"/>
<path d="M1265.0 362.5L1263.9 371.5L1262.4 373.9L1261.4 375.7L1260.4 377.5L1259.4 379.4L1258.4 381.3L1257.4 383.2L1256.4 385.2L1255.4 387.1L1254.4 388.9L1253.4 390.7L1251.9 393.4L1250.4 395.8L1248.9 398.1L1247.4 400.3L1245.9 402.3L1244.4 404.3L1242.9 406.1L1241.4 407.9L1239.9 409.6L1238.4 411.2L1236.9 412.9L1235.4 414.4L1233.9 416.0L1232.4 417.5L1230.9 419.0L1229.4 420.4L1227.9 421.9L1226.4 423.3L1224.9 424.6L1222.9 426.4L1220.9 428.1L1218.9 429.6L1216.9 431.2L1214.9 432.6L1212.9 433.9L1210.9 435.2L1208.9 436.4L1206.9 437.5L1204.9 438.6L1202.9 439.7L1200.9 440.8L1198.9 441.8L1196.9 442.9L1194.9 443.9L1192.9 445.0L1190.9 446.0L1188.9 447.1L1186.9 448.2L1184.9 449.2L1182.9 450.3L1180.9 451.4L1178.9 452.4L1176.9 453.5L1174.9 454.5L1172.9 455.5L1170.9 456.5L1168.9 457.6L1166.9 458.6L1164.9 459.6L1162.9 460.5L1160.9 461.5L1158.9 462.5L1156.9 463.4L1154.9 464.4L1152.9 465.3L1150.9 466.2L1148.9 467.2L1146.9 468.0L1144.9 468.9L1142.9 469.7L1140.9 470.5L1138.9 471.3L1136.9 472.1L1134.9 472.8L1132.9 473.5L1130.9 474.2L1128.9 474.9L1126.9 475.5L1124.9 476.2L1122.9 476.8L1120.9 477.4L1118.9 478.0L1116.9 478.6L1114.9 479.2L1112.9 479.8L1110.9 480.3L1108.9 480.9L1106.9 481.4L1104.9 481.9L1102.9 482.5L1100.9 483.0L1098.9 483.5L1096.9 484.0L1094.9 484.5L1092.9 485.0L1090.9 485.5L1088.9 486.0L1086.9 486.5L1084.9 487.0L1082.9 487.4L1080.9 487.9L1078.9 488.4L1076.9 488.8L1074.9 489.2L1072.9 489.7L1070.9 490.1L1068.9 490.5L1066.9 490.9L1064.9 491.4L1062.9 491.8L1060.9 492.2L1058.9 492.6L1056.9 493.0L1054.9 493.5L1052.9 493.9L1050.9 494.3L1048.9 494.8L1046.9 495.2L1044.9 495.7L1042.9 496.2L1040.9 496.6L1038.9 497.1L1036.9 497.6L1034.9 498.0L1032.9 498.5L1030.9 499.0L1028.9 499.5L1026.9 500.0L1024.9 500.4L1022.9 500.9L1020.9 501.4L1018.9 501.9L1016.9 502.3L1014.9 502.8L1012.9 503.2L1010.9 503.7L1008.9 504.1L1006.9 504.5L1004.9 505.0L1002.9 505.4L1000.9 505.8L998.9 506.2L996.9 506.5L994.9 506.9L992.9 507.3L990.9 507.6L988.9 508.0L986.9 508.3L984.9 508.7L982.9 509.0L980.9 509.3L978.9 509.6L976.9 510.0L974.9 510.3L972.9 510.6L970.9 510.9L968.9 511.2L966.9 511.6L964.9 511.9L962.9 512.2L960.9 512.5L958.9 512.9L956.9 513.2L954.9 513.6L952.9 513.9L950.9 514.3L948.9 514.7L946.9 515.0L944.9 515.4L942.9 515.8L940.9 516.2L938.9 516.6L936.9 517.0L934.9 517.5L932.9 517.9L930.9 518.3L928.9 518.7L926.9 519.2L924.9 519.6L922.9 520.0L920.9 520.4L918.9 520.9L916.9 521.3L914.9 521.7L912.9 522.1L910.9 522.5L908.9 522.9L906.9 523.2L904.9 523.6L902.9 523.9L900.9 524.3L898.9 524.6L896.9 524.9L894.9 525.2L892.9 525.6L890.9 525.8L888.9 526.1L886.9 526.4L884.9 526.7L882.9 527.0L880.9 527.2L878.9 527.5L876.9 527.7L874.9 528.0L872.9 528.2L870.9 528.5L868.9 528.8L866.9 529.0L864.9 529.3L862.9 529.5L860.9 529.8L858.9 530.1L856.9 530.3L854.9 530.6L852.9 530.9L850.9 531.2L848.9 531.5L846.9 531.8L844.9 532.1L842.9 532.4L840.9 532.7L838.9 533.0L836.9 533.3L834.9 533.6L832.9 534.0L830.9 534.3L828.9 534.6L826.9 534.9L824.9 535.3L822.9 535.6L820.9 535.9L818.9 536.3L816.9 536.6L814.9 536.9L812.9 537.3L810.9 537.6L808.9 538.0L806.9 538.3L804.9 538.7L802.9 539.0L800.9 539.4L798.9 539.7L796.9 540.1L794.9 540.4L792.9 540.8L790.9 541.1L788.9 541.5L786.9 541.9L784.9 542.2L782.9 542.6L780.9 543.0L778.9 543.4L776.9 543.7L774.9 544.1L772.9 544.5L770.9 544.9L768.9 545.3L766.9 545.7L764.9 546.0L762.9 546.4L760.9 546.8L758.9 547.2L756.9 547.6L754.9 548.0L752.9 548.3L750.9 548.7L748.9 549.1L746.9 549.5L744.9 549.9L742.9 550.2L740.9 550.6L738.9 551.0L736.9 551.3L734.9 551.7L732.9 552.1L730.9 552.5L728.9 552.8L726.9 553.2L724.9 553.6L722.9 554.0L720.9 554.3L718.9 554.7L716.9 555.1L714.9 555.5L712.9 555.8L710.9 556.2L708.9 556.6L706.9 557.0L704.9 557.4L702.9 557.8L700.9 558.2L698.9 558.6L696.9 559.1L694.9 559.5L692.9 559.9L690.9 560.3L688.9 560.8L686.9 561.2L684.9 561.6L682.9 562.1L680.9 562.5L678.9 563.0L676.9 563.4L674.9 563.9L672.9 564.3L670.9 564.8L668.9 565.3L666.9 565.8L664.9 566.2L662.9 566.7L660.9 567.2L658.9 567.7L656.9 568.3L654.9 568.8L652.9 569.3L650.9 569.9L648.9 570.4L646.9 571.0L644.9 571.6L642.9 572.2L640.9 572.8L638.9 573.4L636.9 574.1L634.9 574.8L632.9 575.5L630.9 576.2L628.9 576.9L626.9 577.6L624.9 578.4L622.9 579.2L620.9 580.0L618.9 580.8L616.9 581.6L614.9 582.5L612.9 583.3L610.9 584.2L608.9 585.1L606.9 585.9L604.9 586.9L602.9 587.8L600.9 588.7L598.9 589.6L596.9 590.6L594.9 591.6L592.9 592.5L590.9 593.5L588.9 594.5L586.9 595.4L584.9 596.4L582.9 597.3L580.9 598.2L578.9 599.1L576.9 600.1L574.9 601.0L572.9 601.9L570.9 602.8L568.9 603.7L566.9 604.6L564.9 605.5L562.9 606.4L560.9 607.3L558.9 608.2L556.9 609.1L554.9 610.1L552.9 611.0L550.9 611.9L548.9 612.9L546.9 613.8L544.9 614.8L542.9 615.8L540.9 616.7L538.9 617.7L536.9 618.6L534.9 619.6L532.9 620.6L530.9 621.6L528.9 622.6L526.9 623.5L524.9 624.5L522.9 625.5L520.9 626.5L518.9 627.5L516.9 628.5L514.9 629.5L512.9 630.6L510.9 631.6L508.9 632.6L506.9 633.6L504.9 634.7L502.9 635.7L500.9 636.7L498.9 637.8L496.9 638.8L494.9 639.9L492.9 641.0L490.9 642.1L488.9 643.2L486.9 644.3L484.9 645.4L482.9 646.5L480.9 647.6L478.9 648.8L476.9 649.9L474.9 651.0L472.9 652.1L470.9 653.2L468.9 654.3L466.9 655.3L464.9 656.4L462.9 657.4L460.9 658.5L458.9 659.5L456.9 660.6L454.9 661.6L452.9 662.6L450.9 663.6L448.9 664.6L446.9 665.5L444.9 666.5L442.9 667.4L440.9 668.3L438.9 669.2L436.9 670.1L434.9 670.9L432.9 671.7L430.9 672.5L428.9 673.2L426.9 673.9L424.9 674.5L422.9 675.2L420.9 675.8L418.9 676.3L416.9 676.9L414.9 677.4L412.9 677.9L410.9 678.4L408.9 678.9L406.9 679.4L404.9 679.9L402.9 680.4L400.9 680.8L398.9 681.3L396.9 681.8L394.9 682.3L392.9 682.8L390.9 683.3L388.9 683.8L386.9 684.3L384.9 684.8L382.9 685.3L380.9 685.8L378.9 686.3L376.9 686.8L374.9 687.3L372.9 687.8L370.9 688.3L368.9 688.8L366.9 689.2L364.9 689.7L362.9 690.2L360.9 690.7L358.9 691.2L356.9 691.6L354.9 692.1L352.9 692.6L350.9 693.0L348.9 693.5L346.9 693.9L344.9 694.4L342.9 694.8L340.9 695.3L338.9 695.7L336.9 696.2L334.9 696.6L332.9 697.0L330.9 697.5L328.9 697.9L326.9 698.3L324.9 698.7L322.9 699.1L320.9 699.5L318.9 699.9L316.9 700.3L314.9 700.6L312.9 701.0L310.9 701.3L308.9 701.6L306.9 701.9L304.9 702.1L302.9 702.4L300.9 702.7L298.9 702.9L296.9 703.2L294.9 703.4L292.9 703.6L290.9 703.8L288.9 704.0L286.9 704.3L284.9 704.5L282.9 704.7L280.9 704.9L278.9 705.1L276.9 705.3L274.9 705.5L272.9 705.7L270.9 705.9L268.9 706.1L266.9 706.3L264.9 706.5L262.9 706.7L260.9 706.9L258.9 707.1L256.9 707.3L254.9 707.5L252.9 707.7L250.9 707.9L248.9 708.1L246.9 708.3L244.9 708.5L242.9 708.7L240.9 708.9L238.9 709.1L236.9 709.2L234.9 709.4L232.9 709.6L230.9 709.8L228.9 710.0L226.9 710.2L224.9 710.4L222.9 710.5L220.9 710.7L218.9 710.9L216.9 711.1L214.9 711.3L212.9 711.4L210.9 711.6L208.9 711.8L206.9 712.0L204.9 712.1L202.9 712.3L200.9 712.5L198.9 712.7L196.9 712.8L194.9 713.0L192.9 713.2L190.9 713.3L188.9 713.5L186.9 713.7L184.9 713.8L182.9 714.0L180.9 714.2L178.9 714.3L176.9 714.5L174.9 714.6L172.9 714.8L170.9 715.0L168.9 715.1L166.9 715.3L164.9 715.4L162.9 715.6L160.9 715.7L158.9 715.9L156.9 716.0L154.9 716.2L152.9 716.3L150.9 716.5L148.9 716.6L146.9 716.8L144.9 716.9L142.9 717.0L140.9 717.1L138.9 717.2L136.9 717.5" stroke="#1010f0" stroke-width="4.3" fill="none" stroke-linejoin="round" stroke-linecap="round"/>
<path d="M122.7 645.4L124.7 644.6L126.7 644.3L128.7 644.0L130.7 643.6L132.7 643.2L134.7 642.8L136.7 642.4L138.7 642.0L140.7 641.5L142.7 641.1L144.7 640.7L146.7 640.2L148.7 639.8L150.7 639.3L152.7 638.8L154.7 638.4L156.7 637.9L158.7 637.4L160.7 636.9L162.7 636.5L164.7 636.0L166.7 635.5L168.7 635.1L170.7 634.7L172.7 634.2L174.7 633.8L176.7 633.5L178.7 633.1L180.7 632.8L182.7 632.4L184.7 632.1L186.7 631.8L188.7 631.6L190.7 631.3L192.7 631.0L194.7 630.8L196.7 630.5L198.7 630.2L200.7 630.0L202.7 629.7L204.7 629.4L206.7 629.1L208.7 628.8L210.7 628.5L212.7 628.2L214.7 627.9L216.7 627.6L218.7 627.3L220.7 626.9L222.7 626.6L224.7 626.2L226.7 625.9L228.7 625.5L230.7 625.2L232.7 624.8L234.7 624.4L236.7 624.0L238.7 623.6L240.7 623.2L242.7 622.8L244.7 622.3L246.7 621.9L248.7 621.5L250.7 621.0L252.7 620.5L254.7 620.0L256.7 619.6L258.7 619.1L260.7 618.6L262.7 618.1L264.7 617.5L266.7 617.0L268.7 616.5L270.7 615.9L272.7 615.3L274.7 614.7L276.7 614.1L278.7 613.4L280.7 612.6L282.7 611.9L284.7 611.0L286.7 610.1L288.7 609.2L290.7 608.3L292.7 607.3L294.7 606.3L296.7 605.2L298.7 604.2L300.7 603.1L302.7 602.0L304.7 601.0L306.7 599.9L308.7 598.7L310.7 597.6L312.7 596.4L314.7 595.1L316.7 593.8L318.7 592.5L320.7 591.1L322.7 589.6L324.7 588.0L326.7 586.4L328.7 584.7L330.7 583.0L332.7 581.2L334.7 579.5L336.2 578.1L337.7 576.8L339.2 575.5L341.2 573.7L343.2 572.0L345.2 570.2L347.2 568.5L349.2 566.7L350.7 565.4L352.2 564.0L353.7 562.7L355.2 561.3L356.7 559.9L358.2 558.5L359.7 557.0L361.2 555.5L362.7 554.0L364.2 552.5L365.7 550.9L367.2 549.2L368.7 547.6L370.2 545.8L371.7 544.0L373.2 542.1L374.7 540.2L376.2 538.2L377.7 536.1L379.2 533.9L380.7 531.7L382.2 529.4L383.7 527.0L385.2 524.5L386.7 522.0L388.2 519.5L389.2 517.7L390.2 515.9L391.2 514.1L392.2 512.3L393.2 510.5L394.2 508.6L395.2 506.7L396.2 504.7L397.2 502.8L398.2 500.8L399.2 498.7L400.2 496.7L401.2 494.6L402.2 492.5L403.2 490.3L404.2 488.1L405.2 485.9L406.2 483.7L407.2 481.4L408.2 479.2L409.2 476.9L410.2 474.6L411.2 472.3L412.2 470.0L413.2 467.6L414.2 465.3L415.2 463.0L416.2 460.7L417.2 458.5L418.2 456.2L419.2 453.9L420.2 451.7L421.2 449.4L422.2 447.2L423.2 444.9L424.2 442.7L425.2 440.4L426.2 438.2L427.2 435.9L428.2 433.6L429.2 431.2L430.2 428.9L431.2 426.5L432.2 424.0L433.2 421.6L434.2 419.0L435.2 416.5L436.2 413.8L437.2 411.2L438.2 408.5L439.2 405.8L440.2 403.0L441.2 400.2L442.2 397.4L443.2 394.6L444.2 391.8L445.2 388.9L446.2 386.1L447.2 383.2L448.2 380.4L449.2 377.5L450.2 374.7L451.2 371.8L452.2 368.9L453.2 366.0L454.2 363.1L455.2 360.2L456.2 357.2L457.2 354.2L458.2 351.2L459.2 348.1L460.2 344.9L461.2 341.7L462.2 338.5L463.2 335.2L464.2 331.9L465.2 328.5L466.2 325.1L467.2 321.7L468.2 318.2L469.2 314.8L470.2 311.4L471.2 308.0L472.2 304.6L473.2 301.2L474.2 297.9L475.2 294.7L476.2 291.5L477.2 288.3L478.2 285.3L479.2 282.2L480.2 279.2L481.2 276.3L482.2 273.4L483.2 270.5L484.2 267.6L485.2 264.8L486.2 262.0L487.2 259.2L488.2 256.4L489.2 253.7L490.2 250.9L491.2 248.1L492.2 245.3L493.2 242.4L494.2 239.6L495.2 236.7L496.2 233.8L497.2 230.9L498.2 227.9L499.2 224.9L500.2 221.9L501.2 218.9L502.2 215.9L503.2 212.8L504.2 209.7L505.2 206.6L506.2 203.5L507.2 200.4L508.2 197.3L509.2 194.2L510.2 191.1L511.2 188.0L512.2 185.0L513.2 182.0L514.2 179.0L515.2 176.1L516.2 173.2L517.2 170.4L518.2 167.6L519.2 164.9L520.2 162.2L521.2 159.6L522.2 157.1L523.2 154.6L524.2 152.2L525.2 149.8L526.2 147.5L527.2 145.3L528.2 143.1L529.2 141.0L530.2 138.9L531.2 136.8L532.2 134.8L533.2 132.9L534.2 131.0L535.2 129.1L536.2 127.2L537.2 125.4L538.2 123.6L539.2 121.8L540.2 120.1L541.7 117.5L543.2 115.0L544.7 112.5L546.2 110.1L547.7 107.8L549.2 105.6L550.7 103.5L552.2 101.4L553.7 99.4L555.2 97.6L556.7 95.8L558.2 94.1L559.7 92.5L561.2 91.0L562.7 89.6L564.2 88.2L566.2 86.5L568.2 84.8L570.2 83.4L572.2 82.0L574.2 80.8L576.2 79.6L578.2 78.6L580.2 77.7L582.2 76.9L584.2 76.2L586.2 75.5L588.2 75.0L590.2 74.5L592.2 74.1L594.2 73.8L596.2 73.5L598.2 73.3L600.2 73.2L602.2 73.1L604.2 73.2L606.2 73.2L608.2 73.4L610.2 73.7L612.2 74.2L614.2 74.7L616.2 75.3L618.2 76.0L620.2 76.8L622.2 77.7L624.2 78.6L626.2 79.6L628.2 80.7L630.2 81.8L632.2 83.0L634.2 84.2L636.2 85.4L638.2 86.7L640.2 88.0L642.2 89.3L644.2 90.7L646.2 92.1L648.2 93.5L650.2 95.0L652.2 96.5L654.2 98.1L656.2 99.7L658.2 101.3L660.2 103.0L662.2 104.6L664.2 106.3L666.2 108.0L668.2 109.6L670.2 111.3L672.2 113.0L674.2 114.6L676.2 116.2L678.2 117.9L680.2 119.5L682.2 121.2L684.2 122.8L686.2 124.5L688.2 126.2L690.2 127.8L692.2 129.5L694.2 131.2L696.2 133.0L698.2 134.7L700.2 136.4L702.2 138.2L704.2 139.9L706.2 141.7L708.2 143.5L709.7 144.8L711.2 146.1L712.7 147.4L714.2 148.8L715.7 150.1L717.2 151.5L718.7 152.8L720.2 154.1L721.7 155.5L723.2 156.8L725.2 158.6L727.2 160.3L729.2 162.0L731.2 163.7L733.2 165.3L735.2 167.0L737.2 168.5L739.2 170.1L741.2 171.6L743.2 173.1L745.2 174.5L747.2 176.0L749.2 177.4L751.2 178.8L753.2 180.3L755.2 181.7L757.2 183.1L759.2 184.5L761.2 185.9L763.2 187.3L765.2 188.6L767.2 190.0L769.2 191.4L771.2 192.8L773.2 194.2L775.2 195.5L777.2 196.9L779.2 198.2L781.2 199.5L783.2 200.7L785.2 202.0L787.2 203.2L789.2 204.4L791.2 205.6L793.2 206.8L795.2 207.9L797.2 209.0L799.2 210.1L801.2 211.2L803.2 212.3L805.2 213.4L807.2 214.5L809.2 215.5L811.2 216.6L813.2 217.6L815.2 218.7L817.2 219.7L819.2 220.7L821.2 221.7L823.2 222.7L825.2 223.7L827.2 224.7L829.2 225.7L831.2 226.7L833.2 227.6L835.2 228.6L837.2 229.5L839.2 230.4L841.2 231.4L843.2 232.3L845.2 233.2L847.2 234.1L849.2 234.9L851.2 235.8L853.2 236.6L855.2 237.5L857.2 238.3L859.2 239.1L861.2 239.9L863.2 240.6L865.2 241.4L867.2 242.1L869.2 242.8L871.2 243.5L873.2 244.2L875.2 244.8L877.2 245.5L879.2 246.1L881.2 246.8L883.2 247.4L885.2 248.0L887.2 248.6L889.2 249.2L891.2 249.8L893.2 250.4L895.2 251.0L897.2 251.6L899.2 252.1L901.2 252.7L903.2 253.2L905.2 253.7L907.2 254.2L909.2 254.7L911.2 255.2L913.2 255.7L915.2 256.2L917.2 256.7L919.2 257.1L921.2 257.6L923.2 258.0L925.2 258.4L927.2 258.9L929.2 259.3L931.2 259.7L933.2 260.1L935.2 260.5L937.2 260.9L939.2 261.3L941.2 261.7L943.2 262.0L945.2 262.4L947.2 262.8L949.2 263.1L951.2 263.5L953.2 263.8L955.2 264.2L957.2 264.5L959.2 264.8L961.2 265.2L963.2 265.5L965.2 265.8L967.2 266.2L969.2 266.5L971.2 266.8L973.2 267.1L975.2 267.4L977.2 267.7L979.2 268.1L981.2 268.4L983.2 268.7L985.2 269.0L987.2 269.3L989.2 269.6L991.2 269.9L993.2 270.1L995.2 270.4L997.2 270.7L999.2 271.0L1001.2 271.3L1003.2 271.6L1005.2 271.8L1007.2 272.1L1009.2 272.4L1011.2 272.7L1013.2 272.9L1015.2 273.2L1017.2 273.5L1019.2 273.8L1021.2 274.1L1023.2 274.3L1025.2 274.6L1027.2 274.9L1029.2 275.2L1031.2 275.4L1033.2 275.7L1035.2 276.0L1037.2 276.2L1039.2 276.5L1041.2 276.7L1043.2 276.9L1045.2 277.2L1047.2 277.4L1049.2 277.6L1051.2 277.8L1053.2 277.9L1055.2 278.1L1057.2 278.3L1059.2 278.4L1061.2 278.5L1063.2 278.7L1065.2 278.8L1067.2 278.9L1069.2 279.0L1071.2 279.1L1073.2 279.3L1075.2 279.4L1077.2 279.5L1079.2 279.6L1081.2 279.7L1083.2 279.8L1085.2 279.9L1087.2 279.9L1089.2 280.0L1091.2 280.1L1093.2 280.2L1095.2 280.2L1097.2 280.3L1099.2 280.3L1101.2 280.4L1103.2 280.4L1105.2 280.4L1107.2 280.5L1109.2 280.5L1111.2 280.5L1113.2 280.5L1115.2 280.5L1117.2 280.5L1119.2 280.5L1121.2 280.5L1123.2 280.5L1125.2 280.5L1127.2 280.5L1129.2 280.5L1131.2 280.5L1133.2 280.5L1135.2 280.5L1137.2 280.5L1139.2 280.5L1141.2 280.5L1143.2 280.5L1145.2 280.5L1147.2 280.5L1149.2 280.5L1151.2 280.5L1153.2 280.5L1155.2 280.5L1157.2 280.5L1159.2 280.5L1161.2 280.5L1163.2 280.4L1165.2 280.4L1167.2 280.4L1169.2 280.3L1171.2 280.3L1173.2 280.2L1175.2 280.2L1177.2 280.1L1179.2 280.0L1181.2 280.0L1183.2 279.9L1185.2 279.8L1187.2 279.7L1189.2 279.6L1191.2 279.5L1193.2 279.5L1195.2 279.4L1197.2 279.3L1199.2 279.2L1201.2 279.1L1203.2 279.0L1205.2 278.9L1207.2 278.9L1209.2 278.8L1211.2 278.7L1213.2 278.7L1215.2 278.6L1217.2 278.5L1219.2 278.5L1221.2 278.4L1223.2 278.3L1225.2 278.3L1227.2 278.2L1229.2 278.1L1231.2 278.1L1233.2 278.0L1235.2 278.0L1237.2 277.9L1239.2 277.8L1241.2 277.8L1243.2 277.7L1245.2 277.7L1247.2 277.6L1249.2 277.6L1251.0 277.5" stroke="#880c10" stroke-width="4.3" fill="none" stroke-linejoin="round" stroke-linecap="round"/>
<path d="M1251.0 277.5L1265.0 310.0" stroke="#880c10" stroke-width="4.3" fill="none" stroke-linejoin="round" stroke-linecap="round"/>
<path d="M1265.0 310.0L1264.9 317.4L1263.4 319.6L1261.9 322.0L1260.9 323.8L1259.9 325.6L1258.9 327.5L1257.9 329.5L1256.9 331.5L1255.9 333.4L1254.9 335.4L1253.9 337.4L1252.9 339.3L1251.9 341.1L1250.9 342.9L1249.9 344.7L1248.4 347.2L1246.9 349.6L1245.4 351.9L1243.9 354.0L1242.4 356.0L1240.9 358.0L1239.4 359.8L1237.9 361.5L1236.4 363.2L1234.9 364.8L1233.4 366.3L1231.9 367.8L1230.4 369.2L1228.9 370.5L1226.9 372.3L1224.9 373.9L1222.9 375.5L1220.9 377.0L1218.9 378.5L1216.9 379.9L1214.9 381.3L1212.9 382.7L1210.9 384.0L1208.9 385.3L1206.9 386.6L1204.9 387.9L1202.9 389.2L1200.9 390.4L1198.9 391.7L1196.9 393.0L1194.9 394.3L1192.9 395.6L1190.9 396.8L1188.9 398.1L1186.9 399.4L1184.9 400.6L1182.9 401.9L1180.9 403.1L1178.9 404.3L1176.9 405.5L1174.9 406.6L1172.9 407.8L1170.9 408.9L1168.9 410.0L1166.9 411.0L1164.9 412.0L1162.9 413.0L1160.9 413.9L1158.9 414.8L1156.9 415.7L1154.9 416.6L1152.9 417.4L1150.9 418.2L1148.9 419.0L1146.9 419.8L1144.9 420.5L1142.9 421.2L1140.9 422.0L1138.9 422.7L1136.9 423.4L1134.9 424.1L1132.9 424.7L1130.9 425.4L1128.9 426.0L1126.9 426.7L1124.9 427.3L1122.9 428.0L1120.9 428.6L1118.9 429.2L1116.9 429.9L1114.9 430.5L1112.9 431.1L1110.9 431.7L1108.9 432.3L1106.9 432.9L1104.9 433.5L1102.9 434.1L1100.9 434.7L1098.9 435.3L1096.9 435.9L1094.9 436.5L1092.9 437.1L1090.9 437.6L1088.9 438.2L1086.9 438.8L1084.9 439.3L1082.9 439.9L1080.9 440.4L1078.9 441.0L1076.9 441.5L1074.9 442.1L1072.9 442.6L1070.9 443.1L1068.9 443.7L1066.9 444.2L1064.9 444.7L1062.9 445.2L1060.9 445.7L1058.9 446.3L1056.9 446.8L1054.9 447.3L1052.9 447.8L1050.9 448.3L1048.9 448.8L1046.9 449.2L1044.9 449.7L1042.9 450.2L1040.9 450.7L1038.9 451.2L1036.9 451.6L1034.9 452.1L1032.9 452.6L1030.9 453.0L1028.9 453.5L1026.9 454.0L1024.9 454.5L1022.9 454.9L1020.9 455.4L1018.9 455.9L1016.9 456.3L1014.9 456.8L1012.9 457.3L1010.9 457.8L1008.9 458.3L1006.9 458.8L1004.9 459.3L1002.9 459.8L1000.9 460.3L998.9 460.8L996.9 461.3L994.9 461.8L992.9 462.4L990.9 462.9L988.9 463.4L986.9 463.9L984.9 464.4L982.9 464.9L980.9 465.4L978.9 466.0L976.9 466.5L974.9 467.0L972.9 467.4L970.9 467.9L968.9 468.4L966.9 468.9L964.9 469.4L962.9 469.8L960.9 470.3L958.9 470.7L956.9 471.1L954.9 471.6L952.9 472.0L950.9 472.4L948.9 472.8L946.9 473.2L944.9 473.6L942.9 474.0L940.9 474.4L938.9 474.8L936.9 475.2L934.9 475.6L932.9 476.0L930.9 476.3L928.9 476.7L926.9 477.1L924.9 477.5L922.9 477.8L920.9 478.2L918.9 478.6L916.9 478.9L914.9 479.3L912.9 479.7L910.9 480.1L908.9 480.4L906.9 480.8L904.9 481.2L902.9 481.5L900.9 481.9L898.9 482.3L896.9 482.7L894.9 483.1L892.9 483.4L890.9 483.8L888.9 484.2L886.9 484.6L884.9 485.0L882.9 485.4L880.9 485.8L878.9 486.2L876.9 486.6L874.9 487.0L872.9 487.4L870.9 487.8L868.9 488.2L866.9 488.5L864.9 488.9L862.9 489.3L860.9 489.7L858.9 490.1L856.9 490.5L854.9 490.9L852.9 491.4L850.9 491.8L848.9 492.2L846.9 492.6L844.9 493.0L842.9 493.4L840.9 493.8L838.9 494.2L836.9 494.7L834.9 495.1L832.9 495.5L830.9 496.0L828.9 496.4L826.9 496.8L824.9 497.3L822.9 497.7L820.9 498.1L818.9 498.6L816.9 499.0L814.9 499.5L812.9 499.9L810.9 500.4L808.9 500.8L806.9 501.2L804.9 501.7L802.9 502.1L800.9 502.6L798.9 503.0L796.9 503.5L794.9 503.9L792.9 504.3L790.9 504.8L788.9 505.2L786.9 505.7L784.9 506.1L782.9 506.5L780.9 506.9L778.9 507.3L776.9 507.8L774.9 508.2L772.9 508.6L770.9 509.0L768.9 509.4L766.9 509.8L764.9 510.2L762.9 510.7L760.9 511.1L758.9 511.5L756.9 512.0L754.9 512.4L752.9 512.9L750.9 513.3L748.9 513.8L746.9 514.3L744.9 514.8L742.9 515.3L740.9 515.9L738.9 516.4L736.9 517.0L734.9 517.5L732.9 518.1L730.9 518.7L728.9 519.4L726.9 520.0L724.9 520.7L722.9 521.4L720.9 522.0L718.9 522.7L716.9 523.4L714.9 524.1L712.9 524.8L710.9 525.5L708.9 526.2L706.9 526.9L704.9 527.6L702.9 528.3L700.9 529.0L698.9 529.7L696.9 530.3L694.9 531.0L692.9 531.6L690.9 532.3L688.9 532.9L686.9 533.6L684.9 534.2L682.9 534.8L680.9 535.5L678.9 536.1L676.9 536.7L674.9 537.3L672.9 538.0L670.9 538.6L668.9 539.3L666.9 539.9L664.9 540.6L662.9 541.2L660.9 541.9L658.9 542.5L656.9 543.2L654.9 543.9L652.9 544.6L650.9 545.4L648.9 546.1L646.9 546.8L644.9 547.6L642.9 548.4L640.9 549.2L638.9 550.0L636.9 550.8L634.9 551.7L632.9 552.6L630.9 553.5L628.9 554.4L626.9 555.3L624.9 556.3L622.9 557.2L620.9 558.2L618.9 559.2L616.9 560.2L614.9 561.2L612.9 562.2L610.9 563.2L608.9 564.3L606.9 565.3L604.9 566.3L602.9 567.4L600.9 568.4L598.9 569.5L596.9 570.5L594.9 571.5L592.9 572.6L590.9 573.6L588.9 574.7L586.9 575.7L584.9 576.8L582.9 577.8L580.9 578.9L578.9 580.0L576.9 581.0L574.9 582.1L572.9 583.2L570.9 584.3L568.9 585.4L566.9 586.5L564.9 587.5L562.9 588.6L560.9 589.7L558.9 590.9L556.9 592.0L554.9 593.1L552.9 594.2L550.9 595.3L548.9 596.4L546.9 597.6L544.9 598.7L542.9 599.8L540.9 601.0L538.9 602.1L536.9 603.3L534.9 604.4L532.9 605.5L530.9 606.7L528.9 607.8L526.9 609.0L524.9 610.2L522.9 611.3L520.9 612.5L518.9 613.6L516.9 614.8L514.9 616.0L512.9 617.1L510.9 618.3L508.9 619.4L506.9 620.6L504.9 621.8L502.9 622.9L500.9 624.1L498.9 625.2L496.9 626.4L494.9 627.5L492.9 628.6L490.9 629.8L488.9 630.9L486.9 632.0L484.9 633.1L482.9 634.2L480.9 635.3L478.9 636.4L476.9 637.5L474.9 638.6L472.9 639.7L470.9 640.8L468.9 641.9L466.9 643.1L464.9 644.3L462.9 645.5L460.9 646.7L458.9 648.1L456.9 649.4L454.9 650.8L452.9 652.2L450.9 653.6L448.9 655.1L446.9 656.5L444.9 657.9L442.9 659.3L440.9 660.7L438.9 662.0L436.9 663.2L434.9 664.4L432.9 665.6L430.9 666.6L428.9 667.6L426.9 668.5L424.9 669.4L422.9 670.2L420.9 670.9L418.9 671.6L416.9 672.2L414.9 672.7L412.9 673.3L410.9 673.7L408.9 674.2L406.9 674.6L404.9 675.1L402.9 675.5L400.9 675.9L398.9 676.4L396.9 676.9L394.9 677.4L392.9 677.9L390.9 678.4L388.9 679.0L386.9 679.5L384.9 680.1L382.9 680.7L380.9 681.3L378.9 681.9L376.9 682.5L374.9 683.1L372.9 683.6L370.9 684.2L368.9 684.8L366.9 685.4L364.9 686.0L362.9 686.6L360.9 687.1L358.9 687.7L356.9 688.3L354.9 688.9L352.9 689.4L350.9 690.0L348.9 690.6L346.9 691.1L344.9 691.7L342.9 692.2L340.9 692.7L338.9 693.3L336.9 693.8L334.9 694.3L332.9 694.8L330.9 695.3L328.9 695.8L326.9 696.3L324.9 696.8L322.9 697.3L320.9 697.8L318.9 698.2L316.9 698.6L314.9 699.0L312.9 699.4L310.9 699.7L308.9 700.1L306.9 700.4L304.9 700.7L302.9 700.9L300.9 701.2L298.9 701.4L296.9 701.7L294.9 701.9L292.9 702.1L290.9 702.3L288.9 702.6L286.9 702.8L284.9 703.0L282.9 703.2L280.9 703.4L278.9 703.6L276.9 703.9L274.9 704.1L272.9 704.3L270.9 704.5L268.9 704.7L266.9 705.0L264.9 705.2L262.9 705.4L260.9 705.6L258.9 705.8L256.9 706.0L254.9 706.2L252.9 706.4L250.9 706.6L248.9 706.8L246.9 707.0L244.9 707.1L242.9 707.3L240.9 707.5L238.9 707.6L236.9 707.8L234.9 708.0L232.9 708.1L230.9 708.3L228.9 708.4L226.9 708.6L224.9 708.7L222.9 708.9L220.9 709.0L218.9 709.2L216.9 709.3L214.9 709.5L212.9 709.6L210.9 709.8L208.9 709.9L206.9 710.1L204.9 710.2L202.9 710.4L200.9 710.5L198.9 710.7L196.9 710.9L194.9 711.0L192.9 711.2L190.9 711.3L188.9 711.5L186.9 711.7L184.9 711.8L182.9 712.0L180.9 712.2L178.9 712.3L176.9 712.5L174.9 712.7L172.9 712.8L170.9 713.0L168.9 713.2L166.9 713.4L164.9 713.5L162.9 713.7L160.9 713.9L158.9 714.1L156.9 714.2L154.9 714.4L152.9 714.6L150.9 714.8L148.9 714.9L146.9 715.1L144.9 715.3L142.9 715.4L140.9 715.5L138.9 715.7L136.9 716.0" stroke="#880c10" stroke-width="4.3" fill="none" stroke-linejoin="round" stroke-linecap="round"/>
<path d="M122.7 647.2L124.7 646.4L126.7 646.1L128.7 645.8L130.7 645.4L132.7 645.0L134.7 644.6L136.7 644.2L138.7 643.8L140.7 643.4L142.7 643.0L144.7 642.6L146.7 642.2L148.7 641.8L150.7 641.4L152.7 641.0L154.7 640.6L156.7 640.2L158.7 639.8L160.7 639.4L162.7 639.1L164.7 638.7L166.7 638.3L168.7 638.0L170.7 637.6L172.7 637.3L174.7 637.0L176.7 636.7L178.7 636.4L180.7 636.1L182.7 635.8L184.7 635.5L186.7 635.2L188.7 634.9L190.7 634.7L192.7 634.4L194.7 634.2L196.7 633.9L198.7 633.7L200.7 633.4L202.7 633.2L204.7 632.9L206.7 632.7L208.7 632.4L210.7 632.2L212.7 631.9L214.7 631.7L216.7 631.4L218.7 631.1L220.7 630.9L222.7 630.6L224.7 630.4L226.7 630.1L228.7 629.8L230.7 629.5L232.7 629.3L234.7 629.0L236.7 628.6L238.7 628.3L240.7 628.0L242.7 627.6L244.7 627.3L246.7 626.9L248.7 626.5L250.7 626.1L252.7 625.7L254.7 625.3L256.7 624.8L258.7 624.4L260.7 624.0L262.7 623.5L264.7 623.0L266.7 622.6L268.7 622.1L270.7 621.6L272.7 621.1L274.7 620.6L276.7 620.1L278.7 619.5L280.7 619.0L282.7 618.4L284.7 617.8L286.7 617.2L288.7 616.6L290.7 616.0L292.7 615.3L294.7 614.6L296.7 613.9L298.7 613.1L300.7 612.4L302.7 611.6L304.7 610.8L306.7 610.0L308.7 609.1L310.7 608.2L312.7 607.3L314.7 606.3L316.7 605.3L318.7 604.3L320.7 603.2L322.7 602.1L324.7 600.9L326.7 599.6L328.7 598.3L330.7 596.9L332.7 595.4L334.7 593.8L336.7 592.2L338.7 590.5L340.7 588.7L342.7 587.0L344.2 585.7L345.7 584.3L347.2 583.0L348.7 581.7L350.2 580.3L351.7 578.9L353.2 577.6L354.7 576.2L356.2 574.7L357.7 573.3L359.2 571.8L360.7 570.2L362.2 568.6L363.7 566.9L365.2 565.2L366.7 563.5L368.2 561.7L369.7 559.8L371.2 558.0L372.7 556.1L374.2 554.2L375.7 552.2L377.2 550.3L378.7 548.3L380.2 546.4L381.7 544.4L383.2 542.3L384.7 540.2L386.2 538.1L387.7 535.9L389.2 533.7L390.7 531.4L392.2 529.1L393.7 526.8L395.2 524.4L396.7 521.9L398.2 519.5L399.7 516.9L401.2 514.4L402.7 511.8L403.7 510.1L404.7 508.4L405.7 506.6L406.7 504.8L407.7 503.0L408.7 501.2L409.7 499.3L410.7 497.4L411.7 495.5L412.7 493.6L413.7 491.6L414.7 489.7L415.7 487.6L416.7 485.6L417.7 483.5L418.7 481.4L419.7 479.3L420.7 477.2L421.7 475.1L422.7 472.9L423.7 470.7L424.7 468.6L425.7 466.4L426.7 464.2L427.7 462.1L428.7 459.9L429.7 457.7L430.7 455.6L431.7 453.4L432.7 451.2L433.7 449.1L434.7 446.9L435.7 444.8L436.7 442.6L437.7 440.4L438.7 438.2L439.7 436.0L440.7 433.7L441.7 431.5L442.7 429.2L443.7 426.8L444.7 424.4L445.7 422.0L446.7 419.5L447.7 417.0L448.7 414.5L449.7 411.9L450.7 409.3L451.7 406.6L452.7 404.0L453.7 401.3L454.7 398.6L455.7 395.8L456.7 393.1L457.7 390.4L458.7 387.7L459.7 385.0L460.7 382.3L461.7 379.6L462.7 376.9L463.7 374.3L464.7 371.7L465.7 369.1L466.7 366.5L467.7 363.9L468.7 361.4L469.7 358.9L470.7 356.4L471.7 353.9L472.7 351.4L473.7 348.9L474.7 346.5L475.7 344.0L476.7 341.6L477.7 339.2L478.7 336.8L479.7 334.4L480.7 331.9L481.7 329.5L482.7 327.2L483.7 324.8L484.7 322.4L485.7 320.0L486.7 317.6L487.7 315.2L488.7 312.8L489.7 310.5L490.7 308.1L491.7 305.7L492.7 303.3L493.7 300.9L494.7 298.5L495.7 296.1L496.7 293.7L497.7 291.3L498.7 288.9L499.7 286.5L500.7 284.2L501.7 281.9L502.7 279.6L503.7 277.3L504.7 275.2L505.7 273.0L506.7 271.0L507.7 269.0L508.7 267.0L509.7 265.1L510.7 263.3L511.7 261.5L513.2 259.0L514.7 256.5L516.2 254.0L517.7 251.5L519.2 249.0L520.7 246.4L521.7 244.7L522.7 242.9L523.7 241.1L524.7 239.4L525.7 237.6L526.7 235.8L527.7 234.0L529.2 231.5L530.7 229.0L532.2 226.7L533.7 224.6L535.2 222.6L536.7 220.8L538.2 219.1L539.7 217.6L541.2 216.2L543.2 214.5L545.2 213.0L547.2 211.7L549.2 210.6L551.2 209.5L553.2 208.6L555.2 207.9L557.2 207.2L559.2 206.7L561.2 206.3L563.2 206.0L565.2 205.8L567.2 205.8L569.2 205.8L571.2 205.9L573.2 206.1L575.2 206.4L577.2 206.9L579.2 207.4L581.2 208.0L583.2 208.8L585.2 209.7L587.2 210.7L589.2 211.7L591.2 212.8L593.2 214.0L595.2 215.1L597.2 216.3L599.2 217.6L601.2 218.8L603.2 220.1L605.2 221.5L607.2 223.0L609.2 224.5L611.2 226.0L613.2 227.6L615.2 229.2L617.2 230.8L619.2 232.4L621.2 234.0L623.2 235.5L625.2 237.1L627.2 238.6L629.2 240.2L631.2 241.8L633.2 243.5L635.2 245.2L637.2 246.9L638.7 248.2L640.2 249.6L641.7 251.0L643.2 252.3L644.7 253.7L646.2 255.1L647.7 256.5L649.2 257.9L650.7 259.3L652.2 260.7L653.7 262.1L655.2 263.5L656.7 264.9L658.2 266.3L659.7 267.6L661.2 269.0L663.2 270.7L665.2 272.4L667.2 274.1L669.2 275.7L671.2 277.3L673.2 278.9L675.2 280.5L677.2 282.0L679.2 283.5L681.2 285.0L683.2 286.4L685.2 287.9L687.2 289.3L689.2 290.7L691.2 292.1L693.2 293.5L695.2 294.9L697.2 296.3L699.2 297.6L701.2 299.0L703.2 300.3L705.2 301.6L707.2 303.0L709.2 304.3L711.2 305.6L713.2 306.9L715.2 308.2L717.2 309.4L719.2 310.7L721.2 311.9L723.2 313.1L725.2 314.4L727.2 315.6L729.2 316.8L731.2 318.0L733.2 319.1L735.2 320.3L737.2 321.4L739.2 322.6L741.2 323.7L743.2 324.8L745.2 325.9L747.2 327.0L749.2 328.1L751.2 329.2L753.2 330.3L755.2 331.3L757.2 332.3L759.2 333.3L761.2 334.3L763.2 335.3L765.2 336.2L767.2 337.2L769.2 338.1L771.2 339.0L773.2 339.9L775.2 340.7L777.2 341.6L779.2 342.4L781.2 343.3L783.2 344.1L785.2 344.9L787.2 345.7L789.2 346.5L791.2 347.3L793.2 348.1L795.2 348.8L797.2 349.6L799.2 350.3L801.2 351.1L803.2 351.8L805.2 352.5L807.2 353.2L809.2 353.9L811.2 354.6L813.2 355.3L815.2 355.9L817.2 356.6L819.2 357.3L821.2 357.9L823.2 358.6L825.2 359.2L827.2 359.8L829.2 360.5L831.2 361.1L833.2 361.7L835.2 362.3L837.2 362.9L839.2 363.4L841.2 364.0L843.2 364.6L845.2 365.1L847.2 365.6L849.2 366.1L851.2 366.7L853.2 367.1L855.2 367.6L857.2 368.1L859.2 368.6L861.2 369.0L863.2 369.5L865.2 369.9L867.2 370.3L869.2 370.8L871.2 371.2L873.2 371.6L875.2 372.0L877.2 372.4L879.2 372.8L881.2 373.2L883.2 373.5L885.2 373.9L887.2 374.3L889.2 374.6L891.2 374.9L893.2 375.3L895.2 375.6L897.2 375.9L899.2 376.2L901.2 376.5L903.2 376.8L905.2 377.1L907.2 377.4L909.2 377.7L911.2 377.9L913.2 378.2L915.2 378.5L917.2 378.7L919.2 379.0L921.2 379.2L923.2 379.5L925.2 379.7L927.2 379.9L929.2 380.2L931.2 380.4L933.2 380.6L935.2 380.8L937.2 381.0L939.2 381.3L941.2 381.5L943.2 381.7L945.2 381.9L947.2 382.1L949.2 382.3L951.2 382.5L953.2 382.7L955.2 382.9L957.2 383.1L959.2 383.3L961.2 383.4L963.2 383.6L965.2 383.8L967.2 384.0L969.2 384.1L971.2 384.3L973.2 384.5L975.2 384.6L977.2 384.8L979.2 384.9L981.2 385.1L983.2 385.2L985.2 385.3L987.2 385.5L989.2 385.6L991.2 385.7L993.2 385.9L995.2 386.0L997.2 386.1L999.2 386.2L1001.2 386.4L1003.2 386.5L1005.2 386.6L1007.2 386.7L1009.2 386.8L1011.2 386.9L1013.2 387.0L1015.2 387.1L1017.2 387.2L1019.2 387.3L1021.2 387.4L1023.2 387.5L1025.2 387.6L1027.2 387.7L1029.2 387.8L1031.2 387.8L1033.2 387.9L1035.2 388.0L1037.2 388.1L1039.2 388.2L1041.2 388.2L1043.2 388.3L1045.2 388.4L1047.2 388.5L1049.2 388.5L1051.2 388.6L1053.2 388.7L1055.2 388.7L1057.2 388.8L1059.2 388.9L1061.2 389.0L1063.2 389.0L1065.2 389.1L1067.2 389.2L1069.2 389.2L1071.2 389.3L1073.2 389.4L1075.2 389.4L1077.2 389.5L1079.2 389.5L1081.2 389.6L1083.2 389.6L1085.2 389.7L1087.2 389.7L1089.2 389.8L1091.2 389.8L1093.2 389.8L1095.2 389.9L1097.2 389.9L1099.2 389.9L1101.2 389.9L1103.2 390.0L1105.2 390.0L1107.2 390.0L1109.2 390.0L1111.2 390.0L1113.2 390.0L1115.2 390.0L1117.2 390.0L1119.2 390.0L1121.2 389.9L1123.2 389.9L1125.2 389.9L1127.2 389.9L1129.2 389.9L1131.2 389.8L1133.2 389.8L1135.2 389.8L1137.2 389.8L1139.2 389.7L1141.2 389.7L1143.2 389.7L1145.2 389.6L1147.2 389.6L1149.2 389.6L1151.2 389.5L1153.2 389.5L1155.2 389.4L1157.2 389.4L1159.2 389.4L1161.2 389.3L1163.2 389.3L1165.2 389.2L1167.2 389.2L1169.2 389.1L1171.2 389.1L1173.2 389.0L1175.2 389.0L1177.2 388.9L1179.2 388.9L1181.2 388.8L1183.2 388.8L1185.2 388.7L1187.2 388.7L1189.2 388.6L1191.2 388.6L1193.2 388.5L1195.2 388.5L1197.2 388.4L1199.2 388.3L1201.2 388.3L1203.2 388.2L1205.2 388.1L1207.2 388.0L1209.2 388.0L1211.2 387.9L1213.2 387.8L1215.2 387.7L1217.2 387.6L1219.2 387.6L1221.2 387.5L1223.2 387.4L1225.2 387.3L1227.2 387.2L1229.2 387.1L1231.2 387.0L1233.2 386.9L1235.2 386.8L1237.2 386.7L1239.2 386.6L1241.2 386.5L1243.2 386.4L1245.2 386.3L1247.2 386.3L1249.2 386.2L1251.0 386.0" stroke="#ea5818" stroke-width="4.3" fill="none" stroke-linejoin="round" stroke-linecap="round"/>
<path d="M1251.0 386.0L1265.0 410.0" stroke="#ea5818" stroke-width="4.3" fill="none" stroke-linejoin="round" stroke-linecap="round"/>
<path d="M1265.0 410.0L1263.9 415.9L1262.4 417.5L1260.9 419.2L1259.4 421.0L1257.9 422.9L1256.4 424.7L1254.9 426.5L1253.4 428.3L1251.9 429.9L1250.4 431.4L1248.9 432.9L1246.9 434.6L1244.9 436.3L1242.9 437.8L1240.9 439.2L1238.9 440.6L1236.9 441.9L1234.9 443.2L1232.9 444.5L1230.9 445.7L1228.9 446.9L1226.9 448.1L1224.9 449.3L1222.9 450.4L1220.9 451.5L1218.9 452.6L1216.9 453.8L1214.9 454.8L1212.9 455.9L1210.9 457.0L1208.9 458.1L1206.9 459.2L1204.9 460.3L1202.9 461.3L1200.9 462.4L1198.9 463.5L1196.9 464.5L1194.9 465.6L1192.9 466.7L1190.9 467.7L1188.9 468.8L1186.9 469.8L1184.9 470.8L1182.9 471.8L1180.9 472.8L1178.9 473.8L1176.9 474.7L1174.9 475.7L1172.9 476.6L1170.9 477.5L1168.9 478.3L1166.9 479.2L1164.9 480.0L1162.9 480.8L1160.9 481.5L1158.9 482.3L1156.9 483.0L1154.9 483.7L1152.9 484.4L1150.9 485.1L1148.9 485.7L1146.9 486.4L1144.9 487.0L1142.9 487.6L1140.9 488.2L1138.9 488.8L1136.9 489.4L1134.9 489.9L1132.9 490.5L1130.9 491.0L1128.9 491.6L1126.9 492.1L1124.9 492.7L1122.9 493.2L1120.9 493.7L1118.9 494.2L1116.9 494.7L1114.9 495.2L1112.9 495.8L1110.9 496.3L1108.9 496.8L1106.9 497.2L1104.9 497.7L1102.9 498.2L1100.9 498.7L1098.9 499.2L1096.9 499.6L1094.9 500.1L1092.9 500.5L1090.9 501.0L1088.9 501.4L1086.9 501.8L1084.9 502.3L1082.9 502.7L1080.9 503.1L1078.9 503.5L1076.9 503.9L1074.9 504.3L1072.9 504.6L1070.9 505.0L1068.9 505.4L1066.9 505.7L1064.9 506.1L1062.9 506.5L1060.9 506.8L1058.9 507.2L1056.9 507.5L1054.9 507.9L1052.9 508.2L1050.9 508.5L1048.9 508.9L1046.9 509.2L1044.9 509.5L1042.9 509.9L1040.9 510.2L1038.9 510.5L1036.9 510.8L1034.9 511.2L1032.9 511.5L1030.9 511.9L1028.9 512.2L1026.9 512.6L1024.9 512.9L1022.9 513.3L1020.9 513.7L1018.9 514.1L1016.9 514.5L1014.9 515.0L1012.9 515.5L1010.9 516.0L1008.9 516.5L1006.9 517.0L1004.9 517.6L1002.9 518.1L1000.9 518.6L998.9 519.1L996.9 519.6L994.9 520.0L992.9 520.5L990.9 520.8L988.9 521.2L986.9 521.6L984.9 521.9L982.9 522.2L980.9 522.6L978.9 522.9L976.9 523.2L974.9 523.5L972.9 523.7L970.9 524.0L968.9 524.3L966.9 524.6L964.9 524.8L962.9 525.1L960.9 525.4L958.9 525.7L956.9 525.9L954.9 526.2L952.9 526.5L950.9 526.8L948.9 527.1L946.9 527.4L944.9 527.6L942.9 527.9L940.9 528.2L938.9 528.5L936.9 528.8L934.9 529.1L932.9 529.4L930.9 529.7L928.9 529.9L926.9 530.2L924.9 530.5L922.9 530.8L920.9 531.1L918.9 531.4L916.9 531.6L914.9 531.9L912.9 532.2L910.9 532.5L908.9 532.8L906.9 533.0L904.9 533.3L902.9 533.6L900.9 533.9L898.9 534.2L896.9 534.4L894.9 534.7L892.9 535.0L890.9 535.3L888.9 535.6L886.9 535.9L884.9 536.2L882.9 536.4L880.9 536.7L878.9 537.0L876.9 537.3L874.9 537.6L872.9 537.9L870.9 538.1L868.9 538.4L866.9 538.7L864.9 539.0L862.9 539.3L860.9 539.5L858.9 539.8L856.9 540.1L854.9 540.3L852.9 540.6L850.9 540.9L848.9 541.1L846.9 541.4L844.9 541.6L842.9 541.9L840.9 542.1L838.9 542.3L836.9 542.6L834.9 542.8L832.9 543.0L830.9 543.3L828.9 543.5L826.9 543.7L824.9 544.0L822.9 544.2L820.9 544.4L818.9 544.6L816.9 544.9L814.9 545.1L812.9 545.4L810.9 545.6L808.9 545.9L806.9 546.1L804.9 546.4L802.9 546.6L800.9 546.9L798.9 547.2L796.9 547.5L794.9 547.8L792.9 548.1L790.9 548.4L788.9 548.7L786.9 549.0L784.9 549.3L782.9 549.6L780.9 550.0L778.9 550.3L776.9 550.6L774.9 551.0L772.9 551.3L770.9 551.6L768.9 552.0L766.9 552.3L764.9 552.7L762.9 553.0L760.9 553.3L758.9 553.7L756.9 554.0L754.9 554.4L752.9 554.7L750.9 555.0L748.9 555.4L746.9 555.7L744.9 556.1L742.9 556.4L740.9 556.7L738.9 557.1L736.9 557.4L734.9 557.7L732.9 558.1L730.9 558.4L728.9 558.8L726.9 559.1L724.9 559.4L722.9 559.8L720.9 560.1L718.9 560.5L716.9 560.8L714.9 561.2L712.9 561.5L710.9 561.8L708.9 562.2L706.9 562.5L704.9 562.9L702.9 563.2L700.9 563.6L698.9 563.9L696.9 564.3L694.9 564.6L692.9 565.0L690.9 565.3L688.9 565.7L686.9 566.1L684.9 566.4L682.9 566.8L680.9 567.2L678.9 567.5L676.9 567.9L674.9 568.3L672.9 568.6L670.9 569.0L668.9 569.4L666.9 569.7L664.9 570.1L662.9 570.5L660.9 570.9L658.9 571.3L656.9 571.7L654.9 572.1L652.9 572.5L650.9 572.9L648.9 573.3L646.9 573.8L644.9 574.2L642.9 574.7L640.9 575.1L638.9 575.6L636.9 576.1L634.9 576.6L632.9 577.1L630.9 577.7L628.9 578.2L626.9 578.8L624.9 579.4L622.9 579.9L620.9 580.6L618.9 581.2L616.9 581.8L614.9 582.4L612.9 583.1L610.9 583.7L608.9 584.4L606.9 585.1L604.9 585.8L602.9 586.5L600.9 587.2L598.9 587.9L596.9 588.6L594.9 589.3L592.9 590.0L590.9 590.7L588.9 591.5L586.9 592.2L584.9 593.0L582.9 593.7L580.9 594.5L578.9 595.3L576.9 596.1L574.9 596.9L572.9 597.7L570.9 598.5L568.9 599.3L566.9 600.1L564.9 601.0L562.9 601.8L560.9 602.6L558.9 603.5L556.9 604.3L554.9 605.1L552.9 605.9L550.9 606.8L548.9 607.6L546.9 608.5L544.9 609.3L542.9 610.2L540.9 611.0L538.9 611.9L536.9 612.7L534.9 613.6L532.9 614.5L530.9 615.4L528.9 616.3L526.9 617.2L524.9 618.1L522.9 619.0L520.9 619.9L518.9 620.9L516.9 621.8L514.9 622.8L512.9 623.7L510.9 624.7L508.9 625.7L506.9 626.6L504.9 627.5L502.9 628.5L500.9 629.4L498.9 630.3L496.9 631.1L494.9 632.0L492.9 632.8L490.9 633.6L488.9 634.3L486.9 635.1L484.9 635.8L482.9 636.5L480.9 637.2L478.9 637.9L476.9 638.6L474.9 639.3L472.9 640.1L470.9 640.9L468.9 641.7L466.9 642.6L464.9 643.5L462.9 644.4L460.9 645.4L458.9 646.4L456.9 647.4L454.9 648.5L452.9 649.5L450.9 650.6L448.9 651.6L446.9 652.7L444.9 653.8L442.9 654.8L440.9 655.9L438.9 656.9L436.9 657.9L434.9 658.8L432.9 659.8L430.9 660.6L428.9 661.4L426.9 662.2L424.9 662.9L422.9 663.6L420.9 664.2L418.9 664.8L416.9 665.4L414.9 666.0L412.9 666.5L410.9 667.1L408.9 667.6L406.9 668.2L404.9 668.7L402.9 669.2L400.9 669.8L398.9 670.3L396.9 670.9L394.9 671.4L392.9 672.0L390.9 672.5L388.9 673.0L386.9 673.6L384.9 674.1L382.9 674.6L380.9 675.2L378.9 675.7L376.9 676.2L374.9 676.7L372.9 677.2L370.9 677.8L368.9 678.3L366.9 678.8L364.9 679.3L362.9 679.8L360.9 680.3L358.9 680.7L356.9 681.2L354.9 681.7L352.9 682.2L350.9 682.6L348.9 683.1L346.9 683.5L344.9 683.9L342.9 684.4L340.9 684.8L338.9 685.2L336.9 685.5L334.9 685.9L332.9 686.3L330.9 686.6L328.9 687.0L326.9 687.3L324.9 687.6L322.9 688.0L320.9 688.3L318.9 688.6L316.9 688.8L314.9 689.1L312.9 689.4L310.9 689.6L308.9 689.9L306.9 690.1L304.9 690.3L302.9 690.5L300.9 690.7L298.9 690.9L296.9 691.1L294.9 691.2L292.9 691.4L290.9 691.6L288.9 691.7L286.9 691.9L284.9 692.1L282.9 692.3L280.9 692.4L278.9 692.6L276.9 692.8L274.9 693.0L272.9 693.2L270.9 693.4L268.9 693.6L266.9 693.8L264.9 694.0L262.9 694.2L260.9 694.4L258.9 694.6L256.9 694.8L254.9 694.9L252.9 695.1L250.9 695.3L248.9 695.5L246.9 695.6L244.9 695.8L242.9 696.0L240.9 696.1L238.9 696.3L236.9 696.4L234.9 696.6L232.9 696.8L230.9 696.9L228.9 697.1L226.9 697.2L224.9 697.3L222.9 697.5L220.9 697.6L218.9 697.8L216.9 697.9L214.9 698.1L212.9 698.2L210.9 698.4L208.9 698.5L206.9 698.6L204.9 698.8L202.9 698.9L200.9 699.1L198.9 699.2L196.9 699.4L194.9 699.5L192.9 699.7L190.9 699.8L188.9 700.0L186.9 700.1L184.9 700.2L182.9 700.4L180.9 700.5L178.9 700.7L176.9 700.8L174.9 701.0L172.9 701.1L170.9 701.3L168.9 701.4L166.9 701.6L164.9 701.7L162.9 701.9L160.9 702.0L158.9 702.2L156.9 702.3L154.9 702.5L152.9 702.6L150.9 702.8L148.9 702.9L146.9 703.0L144.9 703.2L142.9 703.3L140.9 703.4L138.9 703.5L136.9 703.8" stroke="#ea5818" stroke-width="4.3" fill="none" stroke-linejoin="round" stroke-linecap="round"/>
<path d="M122.7 651.0L124.7 650.4L126.7 650.1L128.7 649.9L130.7 649.6L132.7 649.3L134.7 648.9L136.7 648.6L138.7 648.3L140.7 648.0L142.7 647.7L144.7 647.3L146.7 647.0L148.7 646.7L150.7 646.4L152.7 646.1L154.7 645.8L156.7 645.5L158.7 645.2L160.7 644.9L162.7 644.6L164.7 644.3L166.7 644.1L168.7 643.8L170.7 643.5L172.7 643.2L174.7 643.0L176.7 642.7L178.7 642.4L180.7 642.2L182.7 641.9L184.7 641.7L186.7 641.4L188.7 641.2L190.7 640.9L192.7 640.7L194.7 640.4L196.7 640.2L198.7 639.9L200.7 639.7L202.7 639.4L204.7 639.2L206.7 639.0L208.7 638.7L210.7 638.5L212.7 638.2L214.7 638.0L216.7 637.7L218.7 637.5L220.7 637.2L222.7 637.0L224.7 636.7L226.7 636.5L228.7 636.2L230.7 636.0L232.7 635.7L234.7 635.4L236.7 635.2L238.7 634.9L240.7 634.6L242.7 634.3L244.7 634.0L246.7 633.8L248.7 633.5L250.7 633.2L252.7 632.9L254.7 632.6L256.7 632.3L258.7 632.0L260.7 631.7L262.7 631.4L264.7 631.1L266.7 630.7L268.7 630.4L270.7 630.1L272.7 629.7L274.7 629.3L276.7 628.9L278.7 628.4L280.7 627.8L282.7 627.2L284.7 626.5L286.7 625.8L288.7 625.0L290.7 624.3L292.7 623.5L294.7 622.7L296.7 621.9L298.7 621.1L300.7 620.3L302.7 619.5L304.7 618.7L306.7 617.9L308.7 617.0L310.7 616.2L312.7 615.3L314.7 614.4L316.7 613.4L318.7 612.4L320.7 611.4L322.7 610.3L324.7 609.2L326.7 608.1L328.7 606.9L330.7 605.7L332.7 604.4L334.7 603.0L336.7 601.6L338.7 600.2L340.7 598.7L342.7 597.2L344.7 595.6L346.7 593.9L348.7 592.3L350.7 590.5L352.7 588.8L354.2 587.4L355.7 586.1L357.2 584.7L358.7 583.3L360.2 582.0L361.7 580.6L363.2 579.2L364.7 577.7L366.2 576.3L367.7 574.9L369.2 573.4L370.7 571.9L372.2 570.4L373.7 568.9L375.2 567.3L376.7 565.8L378.2 564.2L379.7 562.6L381.2 561.0L382.7 559.4L384.2 557.8L385.7 556.2L387.2 554.6L388.7 552.9L390.2 551.3L391.7 549.6L393.2 547.8L394.7 546.1L396.2 544.3L397.7 542.4L399.2 540.5L400.7 538.6L402.2 536.7L403.7 534.7L405.2 532.6L406.7 530.5L408.2 528.4L409.7 526.3L411.2 524.1L412.7 521.8L414.2 519.5L415.7 517.2L417.2 514.8L418.7 512.4L420.2 510.0L421.7 507.5L423.2 504.9L424.7 502.4L426.2 499.8L427.2 498.0L428.2 496.3L429.2 494.5L430.2 492.7L431.2 490.9L432.2 489.1L433.2 487.3L434.2 485.5L435.2 483.7L436.2 481.9L437.2 480.1L438.2 478.3L439.2 476.5L440.2 474.7L441.2 472.8L442.2 471.0L443.2 469.2L444.2 467.4L445.2 465.6L446.2 463.8L447.2 462.0L448.2 460.3L449.2 458.5L450.2 456.7L451.2 455.0L452.2 453.2L453.2 451.5L454.7 448.9L456.2 446.3L457.7 443.8L459.2 441.2L460.7 438.7L462.2 436.1L463.7 433.6L465.2 431.0L466.7 428.4L468.2 425.8L469.2 424.1L470.2 422.4L471.2 420.6L472.2 418.8L473.2 417.1L474.2 415.3L475.2 413.5L476.2 411.7L477.2 409.9L478.2 408.1L479.2 406.3L480.2 404.5L481.2 402.7L482.2 400.9L483.2 399.1L484.2 397.4L485.2 395.6L486.2 393.8L487.7 391.3L489.2 388.7L490.7 386.2L492.2 383.8L493.7 381.5L495.2 379.2L496.7 376.9L498.2 374.7L499.7 372.6L501.2 370.5L502.7 368.5L504.2 366.5L505.7 364.5L507.2 362.6L508.7 360.7L510.2 358.8L511.7 356.9L513.2 355.1L514.7 353.3L516.2 351.5L517.7 349.7L519.2 348.0L520.7 346.2L522.2 344.5L523.7 342.9L525.2 341.2L526.7 339.6L528.2 338.1L529.7 336.6L531.2 335.1L532.7 333.7L534.2 332.3L536.2 330.7L538.2 329.1L540.2 327.7L542.2 326.4L544.2 325.3L546.2 324.3L548.2 323.5L550.2 322.8L552.2 322.2L554.2 321.7L556.2 321.2L558.2 320.9L560.2 320.6L562.2 320.4L564.2 320.2L566.2 320.1L568.2 320.1L570.2 320.1L572.2 320.2L574.2 320.4L576.2 320.6L578.2 320.9L580.2 321.3L582.2 321.7L584.2 322.2L586.2 322.7L588.2 323.3L590.2 323.9L592.2 324.5L594.2 325.2L596.2 325.9L598.2 326.7L600.2 327.5L602.2 328.3L604.2 329.2L606.2 330.1L608.2 331.0L610.2 332.0L612.2 333.0L614.2 334.0L616.2 335.0L618.2 336.0L620.2 337.1L622.2 338.2L624.2 339.3L626.2 340.5L628.2 341.6L630.2 342.8L632.2 344.0L634.2 345.3L636.2 346.5L638.2 347.7L640.2 349.0L642.2 350.2L644.2 351.5L646.2 352.8L648.2 354.0L650.2 355.3L652.2 356.6L654.2 357.8L656.2 359.1L658.2 360.4L660.2 361.6L662.2 362.9L664.2 364.1L666.2 365.2L668.2 366.4L670.2 367.5L672.2 368.6L674.2 369.6L676.2 370.6L678.2 371.6L680.2 372.5L682.2 373.5L684.2 374.4L686.2 375.3L688.2 376.2L690.2 377.1L692.2 378.0L694.2 378.9L696.2 379.8L698.2 380.7L700.2 381.7L702.2 382.6L704.2 383.6L706.2 384.5L708.2 385.5L710.2 386.5L712.2 387.5L714.2 388.5L716.2 389.4L718.2 390.4L720.2 391.4L722.2 392.4L724.2 393.4L726.2 394.4L728.2 395.3L730.2 396.3L732.2 397.2L734.2 398.1L736.2 399.0L738.2 399.9L740.2 400.8L742.2 401.6L744.2 402.4L746.2 403.3L748.2 404.1L750.2 404.9L752.2 405.7L754.2 406.4L756.2 407.2L758.2 407.9L760.2 408.7L762.2 409.4L764.2 410.2L766.2 410.9L768.2 411.6L770.2 412.3L772.2 412.9L774.2 413.6L776.2 414.2L778.2 414.8L780.2 415.5L782.2 416.0L784.2 416.6L786.2 417.2L788.2 417.7L790.2 418.2L792.2 418.7L794.2 419.2L796.2 419.7L798.2 420.2L800.2 420.6L802.2 421.1L804.2 421.5L806.2 421.9L808.2 422.3L810.2 422.8L812.2 423.2L814.2 423.6L816.2 424.0L818.2 424.4L820.2 424.7L822.2 425.1L824.2 425.5L826.2 425.9L828.2 426.3L830.2 426.7L832.2 427.1L834.2 427.5L836.2 427.9L838.2 428.3L840.2 428.7L842.2 429.1L844.2 429.5L846.2 429.8L848.2 430.2L850.2 430.6L852.2 430.9L854.2 431.2L856.2 431.5L858.2 431.9L860.2 432.2L862.2 432.5L864.2 432.8L866.2 433.1L868.2 433.4L870.2 433.6L872.2 433.9L874.2 434.2L876.2 434.5L878.2 434.7L880.2 435.0L882.2 435.3L884.2 435.5L886.2 435.8L888.2 436.0L890.2 436.3L892.2 436.5L894.2 436.8L896.2 437.0L898.2 437.2L900.2 437.4L902.2 437.7L904.2 437.9L906.2 438.1L908.2 438.3L910.2 438.5L912.2 438.7L914.2 438.9L916.2 439.1L918.2 439.3L920.2 439.5L922.2 439.7L924.2 439.8L926.2 440.0L928.2 440.2L930.2 440.3L932.2 440.5L934.2 440.7L936.2 440.8L938.2 441.0L940.2 441.1L942.2 441.3L944.2 441.4L946.2 441.6L948.2 441.7L950.2 441.9L952.2 442.0L954.2 442.1L956.2 442.3L958.2 442.4L960.2 442.5L962.2 442.6L964.2 442.7L966.2 442.9L968.2 443.0L970.2 443.1L972.2 443.2L974.2 443.3L976.2 443.4L978.2 443.5L980.2 443.6L982.2 443.7L984.2 443.8L986.2 443.9L988.2 444.0L990.2 444.1L992.2 444.2L994.2 444.3L996.2 444.4L998.2 444.5L1000.2 444.6L1002.2 444.7L1004.2 444.8L1006.2 444.9L1008.2 445.0L1010.2 445.0L1012.2 445.1L1014.2 445.2L1016.2 445.3L1018.2 445.4L1020.2 445.4L1022.2 445.5L1024.2 445.6L1026.2 445.7L1028.2 445.8L1030.2 445.8L1032.2 445.9L1034.2 446.0L1036.2 446.0L1038.2 446.1L1040.2 446.2L1042.2 446.3L1044.2 446.3L1046.2 446.4L1048.2 446.5L1050.2 446.6L1052.2 446.6L1054.2 446.7L1056.2 446.8L1058.2 446.9L1060.2 446.9L1062.2 447.0L1064.2 447.0L1066.2 447.1L1068.2 447.1L1070.2 447.2L1072.2 447.2L1074.2 447.2L1076.2 447.3L1078.2 447.3L1080.2 447.3L1082.2 447.3L1084.2 447.3L1086.2 447.3L1088.2 447.3L1090.2 447.3L1092.2 447.3L1094.2 447.3L1096.2 447.3L1098.2 447.3L1100.2 447.3L1102.2 447.3L1104.2 447.3L1106.2 447.3L1108.2 447.3L1110.2 447.3L1112.2 447.3L1114.2 447.3L1116.2 447.3L1118.2 447.3L1120.2 447.3L1122.2 447.3L1124.2 447.3L1126.2 447.3L1128.2 447.3L1130.2 447.3L1132.2 447.3L1134.2 447.2L1136.2 447.2L1138.2 447.2L1140.2 447.2L1142.2 447.2L1144.2 447.2L1146.2 447.2L1148.2 447.1L1150.2 447.1L1152.2 447.1L1154.2 447.1L1156.2 447.0L1158.2 447.0L1160.2 447.0L1162.2 446.9L1164.2 446.9L1166.2 446.8L1168.2 446.7L1170.2 446.6L1172.2 446.6L1174.2 446.5L1176.2 446.4L1178.2 446.3L1180.2 446.2L1182.2 446.1L1184.2 446.1L1186.2 446.0L1188.2 445.9L1190.2 445.8L1192.2 445.8L1194.2 445.7L1196.2 445.6L1198.2 445.5L1200.2 445.5L1202.2 445.4L1204.2 445.3L1206.2 445.3L1208.2 445.2L1210.2 445.2L1212.2 445.1L1214.2 445.0L1216.2 445.0L1218.2 444.9L1220.2 444.8L1222.2 444.8L1224.2 444.7L1226.2 444.7L1228.2 444.6L1230.2 444.5L1232.2 444.5L1234.2 444.4L1236.2 444.4L1238.2 444.3L1240.2 444.3L1242.2 444.2L1244.2 444.2L1246.2 444.1L1248.2 444.1L1250.2 444.1L1251.0 444.0" stroke="#20c4c4" stroke-width="4.3" fill="none" stroke-linejoin="round" stroke-linecap="round"/>
<path d="M1251.0 444.0L1265.0 460.0" stroke="#20c4c4" stroke-width="4.3" fill="none" stroke-linejoin="round" stroke-linecap="round"/>
<path d="M1265.0 460.0L1263.3 464.5L1261.3 466.1L1259.8 467.5L1258.3 468.9L1256.8 470.4L1255.3 471.9L1253.8 473.4L1252.3 474.9L1250.8 476.4L1249.3 477.7L1247.8 479.1L1245.8 480.7L1243.8 482.3L1241.8 483.8L1239.8 485.2L1237.8 486.5L1235.8 487.7L1233.8 488.9L1231.8 490.1L1229.8 491.2L1227.8 492.2L1225.8 493.3L1223.8 494.3L1221.8 495.2L1219.8 496.2L1217.8 497.1L1215.8 498.1L1213.8 499.0L1211.8 499.8L1209.8 500.7L1207.8 501.6L1205.8 502.4L1203.8 503.2L1201.8 504.0L1199.8 504.8L1197.8 505.5L1195.8 506.3L1193.8 507.0L1191.8 507.7L1189.8 508.4L1187.8 509.0L1185.8 509.7L1183.8 510.3L1181.8 510.9L1179.8 511.5L1177.8 512.1L1175.8 512.6L1173.8 513.2L1171.8 513.8L1169.8 514.3L1167.8 514.8L1165.8 515.3L1163.8 515.8L1161.8 516.3L1159.8 516.8L1157.8 517.3L1155.8 517.8L1153.8 518.2L1151.8 518.7L1149.8 519.2L1147.8 519.6L1145.8 520.1L1143.8 520.5L1141.8 521.0L1139.8 521.4L1137.8 521.9L1135.8 522.3L1133.8 522.8L1131.8 523.2L1129.8 523.6L1127.8 524.1L1125.8 524.5L1123.8 524.9L1121.8 525.3L1119.8 525.8L1117.8 526.2L1115.8 526.6L1113.8 527.0L1111.8 527.4L1109.8 527.8L1107.8 528.2L1105.8 528.6L1103.8 529.0L1101.8 529.4L1099.8 529.8L1097.8 530.2L1095.8 530.5L1093.8 530.9L1091.8 531.3L1089.8 531.6L1087.8 532.0L1085.8 532.3L1083.8 532.7L1081.8 533.0L1079.8 533.4L1077.8 533.7L1075.8 534.0L1073.8 534.3L1071.8 534.6L1069.8 535.0L1067.8 535.3L1065.8 535.6L1063.8 535.9L1061.8 536.2L1059.8 536.5L1057.8 536.8L1055.8 537.0L1053.8 537.3L1051.8 537.6L1049.8 537.9L1047.8 538.2L1045.8 538.5L1043.8 538.8L1041.8 539.1L1039.8 539.4L1037.8 539.7L1035.8 540.0L1033.8 540.3L1031.8 540.6L1029.8 540.9L1027.8 541.2L1025.8 541.5L1023.8 541.8L1021.8 542.2L1019.8 542.5L1017.8 542.8L1015.8 543.2L1013.8 543.5L1011.8 543.8L1009.8 544.2L1007.8 544.5L1005.8 544.8L1003.8 545.2L1001.8 545.5L999.8 545.8L997.8 546.0L995.8 546.3L993.8 546.6L991.8 546.8L989.8 547.1L987.8 547.3L985.8 547.6L983.8 547.8L981.8 548.1L979.8 548.3L977.8 548.5L975.8 548.7L973.8 548.9L971.8 549.2L969.8 549.4L967.8 549.6L965.8 549.8L963.8 550.0L961.8 550.2L959.8 550.4L957.8 550.7L955.8 550.9L953.8 551.1L951.8 551.3L949.8 551.5L947.8 551.8L945.8 552.0L943.8 552.2L941.8 552.4L939.8 552.7L937.8 552.9L935.8 553.1L933.8 553.4L931.8 553.6L929.8 553.8L927.8 554.1L925.8 554.3L923.8 554.5L921.8 554.7L919.8 555.0L917.8 555.2L915.8 555.4L913.8 555.6L911.8 555.8L909.8 556.0L907.8 556.2L905.8 556.4L903.8 556.6L901.8 556.8L899.8 557.0L897.8 557.2L895.8 557.4L893.8 557.5L891.8 557.7L889.8 557.9L887.8 558.0L885.8 558.2L883.8 558.4L881.8 558.5L879.8 558.7L877.8 558.8L875.8 559.0L873.8 559.1L871.8 559.3L869.8 559.4L867.8 559.6L865.8 559.7L863.8 559.9L861.8 560.0L859.8 560.2L857.8 560.3L855.8 560.5L853.8 560.6L851.8 560.8L849.8 560.9L847.8 561.1L845.8 561.2L843.8 561.4L841.8 561.5L839.8 561.7L837.8 561.8L835.8 562.0L833.8 562.1L831.8 562.2L829.8 562.4L827.8 562.5L825.8 562.7L823.8 562.8L821.8 563.0L819.8 563.1L817.8 563.3L815.8 563.4L813.8 563.6L811.8 563.8L809.8 563.9L807.8 564.1L805.8 564.3L803.8 564.5L801.8 564.7L799.8 564.9L797.8 565.0L795.8 565.3L793.8 565.5L791.8 565.7L789.8 565.9L787.8 566.1L785.8 566.4L783.8 566.6L781.8 566.8L779.8 567.1L777.8 567.3L775.8 567.6L773.8 567.8L771.8 568.1L769.8 568.4L767.8 568.6L765.8 568.9L763.8 569.2L761.8 569.5L759.8 569.7L757.8 570.0L755.8 570.3L753.8 570.6L751.8 570.8L749.8 571.1L747.8 571.4L745.8 571.7L743.8 572.0L741.8 572.3L739.8 572.5L737.8 572.8L735.8 573.1L733.8 573.4L731.8 573.7L729.8 574.0L727.8 574.3L725.8 574.6L723.8 574.9L721.8 575.2L719.8 575.5L717.8 575.8L715.8 576.1L713.8 576.4L711.8 576.7L709.8 577.0L707.8 577.3L705.8 577.6L703.8 577.9L701.8 578.2L699.8 578.4L697.8 578.7L695.8 579.0L693.8 579.3L691.8 579.6L689.8 579.9L687.8 580.1L685.8 580.4L683.8 580.7L681.8 581.0L679.8 581.3L677.8 581.6L675.8 581.9L673.8 582.2L671.8 582.5L669.8 582.8L667.8 583.1L665.8 583.3L663.8 583.6L661.8 583.9L659.8 584.3L657.8 584.6L655.8 584.9L653.8 585.2L651.8 585.5L649.8 585.9L647.8 586.2L645.8 586.6L643.8 586.9L641.8 587.3L639.8 587.7L637.8 588.1L635.8 588.5L633.8 589.0L631.8 589.4L629.8 589.9L627.8 590.4L625.8 590.9L623.8 591.4L621.8 591.9L619.8 592.5L617.8 593.0L615.8 593.6L613.8 594.2L611.8 594.8L609.8 595.4L607.8 596.0L605.8 596.6L603.8 597.2L601.8 597.8L599.8 598.4L597.8 599.0L595.8 599.6L593.8 600.2L591.8 600.9L589.8 601.5L587.8 602.1L585.8 602.7L583.8 603.3L581.8 603.9L579.8 604.6L577.8 605.2L575.8 605.8L573.8 606.5L571.8 607.1L569.8 607.8L567.8 608.4L565.8 609.1L563.8 609.8L561.8 610.4L559.8 611.1L557.8 611.7L555.8 612.4L553.8 613.1L551.8 613.7L549.8 614.4L547.8 615.1L545.8 615.8L543.8 616.5L541.8 617.1L539.8 617.8L537.8 618.5L535.8 619.3L533.8 620.0L531.8 620.7L529.8 621.4L527.8 622.2L525.8 622.9L523.8 623.7L521.8 624.5L519.8 625.2L517.8 626.0L515.8 626.8L513.8 627.6L511.8 628.4L509.8 629.2L507.8 630.0L505.8 630.8L503.8 631.6L501.8 632.4L499.8 633.2L497.8 634.0L495.8 634.8L493.8 635.5L491.8 636.3L489.8 637.0L487.8 637.8L485.8 638.5L483.8 639.2L481.8 639.9L479.8 640.6L477.8 641.3L475.8 642.0L473.8 642.7L471.8 643.4L469.8 644.0L467.8 644.7L465.8 645.4L463.8 646.0L461.8 646.7L459.8 647.3L457.8 648.0L455.8 648.6L453.8 649.3L451.8 650.0L449.8 650.6L447.8 651.3L445.8 652.0L443.8 652.7L441.8 653.4L439.8 654.2L437.8 654.9L435.8 655.6L433.8 656.2L431.8 656.9L429.8 657.6L427.8 658.2L425.8 658.8L423.8 659.4L421.8 660.0L419.8 660.6L417.8 661.2L415.8 661.8L413.8 662.3L411.8 662.9L409.8 663.4L407.8 663.9L405.8 664.5L403.8 665.0L401.8 665.5L399.8 666.0L397.8 666.5L395.8 667.0L393.8 667.5L391.8 668.0L389.8 668.5L387.8 669.0L385.8 669.5L383.8 669.9L381.8 670.4L379.8 670.8L377.8 671.3L375.8 671.7L373.8 672.2L371.8 672.6L369.8 673.0L367.8 673.4L365.8 673.8L363.8 674.2L361.8 674.6L359.8 675.0L357.8 675.4L355.8 675.7L353.8 676.1L351.8 676.5L349.8 676.8L347.8 677.2L345.8 677.5L343.8 677.9L341.8 678.2L339.8 678.5L337.8 678.8L335.8 679.2L333.8 679.5L331.8 679.8L329.8 680.1L327.8 680.4L325.8 680.7L323.8 681.0L321.8 681.2L319.8 681.5L317.8 681.7L315.8 682.0L313.8 682.2L311.8 682.4L309.8 682.7L307.8 682.9L305.8 683.0L303.8 683.2L301.8 683.4L299.8 683.5L297.8 683.7L295.8 683.8L293.8 684.0L291.8 684.1L289.8 684.3L287.8 684.4L285.8 684.6L283.8 684.7L281.8 684.9L279.8 685.0L277.8 685.2L275.8 685.4L273.8 685.5L271.8 685.7L269.8 685.8L267.8 686.0L265.8 686.2L263.8 686.3L261.8 686.5L259.8 686.7L257.8 686.8L255.8 687.0L253.8 687.2L251.8 687.4L249.8 687.5L247.8 687.7L245.8 687.9L243.8 688.0L241.8 688.2L239.8 688.4L237.8 688.5L235.8 688.7L233.8 688.9L231.8 689.1L229.8 689.2L227.8 689.4L225.8 689.6L223.8 689.8L221.8 689.9L219.8 690.1L217.8 690.3L215.8 690.4L213.8 690.6L211.8 690.8L209.8 690.9L207.8 691.1L205.8 691.2L203.8 691.4L201.8 691.5L199.8 691.7L197.8 691.8L195.8 691.9L193.8 692.1L191.8 692.2L189.8 692.3L187.8 692.4L185.8 692.6L183.8 692.7L181.8 692.8L179.8 692.9L177.8 693.0L175.8 693.2L173.8 693.3L171.8 693.4L169.8 693.5L167.8 693.6L165.8 693.7L163.8 693.8L161.8 693.9L159.8 694.0L157.8 694.1L155.8 694.2L153.8 694.3L151.8 694.4L149.8 694.5L147.8 694.6L145.8 694.7L143.8 694.8L141.8 694.8L139.8 694.9L137.8 695.0L135.8 695.1" stroke="#20c4c4" stroke-width="4.3" fill="none" stroke-linejoin="round" stroke-linecap="round"/>
<path d="M122.7 653.3L124.7 652.8L126.7 652.7L128.7 652.5L130.7 652.2L132.7 652.0L134.7 651.8L136.7 651.5L138.7 651.3L140.7 651.1L142.7 650.8L144.7 650.6L146.7 650.4L148.7 650.2L150.7 649.9L152.7 649.7L154.7 649.5L156.7 649.3L158.7 649.1L160.7 648.9L162.7 648.7L164.7 648.5L166.7 648.3L168.7 648.1L170.7 647.9L172.7 647.7L174.7 647.5L176.7 647.3L178.7 647.1L180.7 647.0L182.7 646.8L184.7 646.6L186.7 646.4L188.7 646.2L190.7 646.1L192.7 645.9L194.7 645.7L196.7 645.5L198.7 645.3L200.7 645.2L202.7 645.0L204.7 644.8L206.7 644.6L208.7 644.4L210.7 644.3L212.7 644.1L214.7 643.9L216.7 643.7L218.7 643.5L220.7 643.3L222.7 643.2L224.7 643.0L226.7 642.8L228.7 642.6L230.7 642.4L232.7 642.2L234.7 641.9L236.7 641.7L238.7 641.5L240.7 641.2L242.7 641.0L244.7 640.7L246.7 640.4L248.7 640.1L250.7 639.8L252.7 639.5L254.7 639.2L256.7 638.9L258.7 638.6L260.7 638.2L262.7 637.9L264.7 637.5L266.7 637.1L268.7 636.7L270.7 636.3L272.7 635.9L274.7 635.4L276.7 634.9L278.7 634.4L280.7 633.9L282.7 633.3L284.7 632.7L286.7 632.1L288.7 631.4L290.7 630.8L292.7 630.1L294.7 629.4L296.7 628.7L298.7 628.0L300.7 627.3L302.7 626.6L304.7 625.9L306.7 625.2L308.7 624.5L310.7 623.7L312.7 622.9L314.7 622.1L316.7 621.3L318.7 620.4L320.7 619.5L322.7 618.6L324.7 617.7L326.7 616.7L328.7 615.7L330.7 614.6L332.7 613.6L334.7 612.4L336.7 611.3L338.7 610.1L340.7 608.8L342.7 607.5L344.7 606.2L346.7 604.8L348.7 603.2L350.7 601.7L352.7 600.0L354.7 598.2L356.2 596.9L357.7 595.5L359.2 594.0L360.7 592.6L362.2 591.2L363.7 589.7L365.2 588.3L366.7 586.9L368.2 585.5L369.7 584.1L371.2 582.7L372.7 581.4L374.2 580.0L375.7 578.6L377.2 577.2L378.7 575.8L380.2 574.3L381.7 572.9L383.2 571.3L384.7 569.8L386.2 568.2L387.7 566.5L389.2 564.8L390.7 563.1L392.2 561.3L393.7 559.4L395.2 557.5L396.7 555.5L398.2 553.5L399.7 551.5L401.2 549.5L402.7 547.4L404.2 545.4L405.7 543.3L407.2 541.2L408.7 539.2L410.2 537.1L411.7 535.1L413.2 533.0L414.7 531.0L416.2 528.9L417.7 526.8L419.2 524.8L420.7 522.7L422.2 520.6L423.7 518.5L425.2 516.5L426.7 514.4L428.2 512.3L429.7 510.2L431.2 508.0L432.7 505.9L434.2 503.8L435.7 501.7L437.2 499.6L438.7 497.5L440.2 495.3L441.7 493.2L443.2 491.1L444.7 488.9L446.2 486.8L447.7 484.7L449.2 482.6L450.7 480.4L452.2 478.3L453.7 476.2L455.2 474.0L456.7 471.9L458.2 469.8L459.7 467.7L461.2 465.5L462.7 463.4L464.2 461.2L465.7 459.1L467.2 456.9L468.7 454.8L470.2 452.6L471.7 450.5L473.2 448.4L474.7 446.2L476.2 444.1L477.7 442.0L479.2 439.9L480.7 437.8L482.2 435.7L483.7 433.6L485.2 431.5L486.7 429.5L488.2 427.4L489.7 425.4L491.2 423.3L492.7 421.3L494.2 419.3L495.7 417.3L497.2 415.4L498.7 413.5L500.2 411.7L501.7 409.9L503.2 408.3L504.7 406.7L506.2 405.3L507.7 403.9L509.7 402.3L511.7 400.8L513.7 399.5L515.7 398.3L517.7 397.3L519.7 396.3L521.7 395.5L523.7 394.7L525.7 394.0L527.7 393.4L529.7 392.8L531.7 392.3L533.7 391.9L535.7 391.5L537.7 391.2L539.7 391.0L541.7 390.8L543.7 390.7L545.7 390.6L547.7 390.5L549.7 390.4L551.7 390.3L553.7 390.3L555.7 390.3L557.7 390.2L559.7 390.3L561.7 390.3L563.7 390.4L565.7 390.6L567.7 390.8L569.7 391.1L571.7 391.5L573.7 392.0L575.7 392.6L577.7 393.2L579.7 393.9L581.7 394.6L583.7 395.4L585.7 396.2L587.7 397.0L589.7 397.8L591.7 398.6L593.7 399.5L595.7 400.4L597.7 401.3L599.7 402.2L601.7 403.2L603.7 404.1L605.7 405.1L607.7 406.0L609.7 407.0L611.7 407.9L613.7 408.8L615.7 409.7L617.7 410.6L619.7 411.4L621.7 412.3L623.7 413.1L625.7 413.9L627.7 414.7L629.7 415.4L631.7 416.2L633.7 417.0L635.7 417.9L637.7 418.7L639.7 419.6L641.7 420.5L643.7 421.4L645.7 422.4L647.7 423.4L649.7 424.4L651.7 425.4L653.7 426.4L655.7 427.4L657.7 428.4L659.7 429.4L661.7 430.3L663.7 431.2L665.7 432.1L667.7 432.9L669.7 433.7L671.7 434.5L673.7 435.3L675.7 436.0L677.7 436.7L679.7 437.4L681.7 438.1L683.7 438.8L685.7 439.5L687.7 440.2L689.7 441.0L691.7 441.7L693.7 442.4L695.7 443.2L697.7 443.9L699.7 444.7L701.7 445.5L703.7 446.2L705.7 447.0L707.7 447.8L709.7 448.6L711.7 449.3L713.7 450.1L715.7 450.9L717.7 451.6L719.7 452.4L721.7 453.1L723.7 453.8L725.7 454.5L727.7 455.2L729.7 455.8L731.7 456.5L733.7 457.1L735.7 457.7L737.7 458.3L739.7 458.8L741.7 459.3L743.7 459.8L745.7 460.3L747.7 460.8L749.7 461.3L751.7 461.7L753.7 462.1L755.7 462.6L757.7 463.0L759.7 463.4L761.7 463.8L763.7 464.2L765.7 464.6L767.7 464.9L769.7 465.3L771.7 465.7L773.7 466.1L775.7 466.4L777.7 466.8L779.7 467.1L781.7 467.5L783.7 467.9L785.7 468.2L787.7 468.6L789.7 469.0L791.7 469.3L793.7 469.7L795.7 470.1L797.7 470.4L799.7 470.8L801.7 471.2L803.7 471.5L805.7 471.9L807.7 472.3L809.7 472.6L811.7 473.0L813.7 473.4L815.7 473.7L817.7 474.1L819.7 474.4L821.7 474.7L823.7 475.1L825.7 475.4L827.7 475.7L829.7 476.0L831.7 476.3L833.7 476.6L835.7 476.9L837.7 477.2L839.7 477.4L841.7 477.7L843.7 477.9L845.7 478.2L847.7 478.4L849.7 478.6L851.7 478.9L853.7 479.1L855.7 479.3L857.7 479.5L859.7 479.7L861.7 479.9L863.7 480.1L865.7 480.3L867.7 480.5L869.7 480.7L871.7 480.9L873.7 481.1L875.7 481.2L877.7 481.4L879.7 481.6L881.7 481.8L883.7 482.0L885.7 482.1L887.7 482.3L889.7 482.5L891.7 482.6L893.7 482.8L895.7 483.0L897.7 483.1L899.7 483.3L901.7 483.5L903.7 483.6L905.7 483.8L907.7 483.9L909.7 484.1L911.7 484.2L913.7 484.4L915.7 484.5L917.7 484.7L919.7 484.8L921.7 485.0L923.7 485.1L925.7 485.3L927.7 485.4L929.7 485.6L931.7 485.7L933.7 485.8L935.7 486.0L937.7 486.1L939.7 486.2L941.7 486.4L943.7 486.5L945.7 486.6L947.7 486.8L949.7 486.9L951.7 487.0L953.7 487.1L955.7 487.2L957.7 487.4L959.7 487.5L961.7 487.6L963.7 487.7L965.7 487.8L967.7 487.9L969.7 488.1L971.7 488.2L973.7 488.3L975.7 488.4L977.7 488.5L979.7 488.6L981.7 488.7L983.7 488.8L985.7 489.0L987.7 489.1L989.7 489.2L991.7 489.3L993.7 489.4L995.7 489.5L997.7 489.6L999.7 489.7L1001.7 489.8L1003.7 489.9L1005.7 490.0L1007.7 490.1L1009.7 490.1L1011.7 490.2L1013.7 490.3L1015.7 490.4L1017.7 490.5L1019.7 490.5L1021.7 490.6L1023.7 490.7L1025.7 490.7L1027.7 490.8L1029.7 490.9L1031.7 490.9L1033.7 491.0L1035.7 491.0L1037.7 491.0L1039.7 491.1L1041.7 491.1L1043.7 491.2L1045.7 491.2L1047.7 491.3L1049.7 491.3L1051.7 491.3L1053.7 491.4L1055.7 491.4L1057.7 491.4L1059.7 491.5L1061.7 491.5L1063.7 491.5L1065.7 491.6L1067.7 491.6L1069.7 491.6L1071.7 491.7L1073.7 491.7L1075.7 491.7L1077.7 491.8L1079.7 491.8L1081.7 491.8L1083.7 491.8L1085.7 491.9L1087.7 491.9L1089.7 491.9L1091.7 491.9L1093.7 491.9L1095.7 491.9L1097.7 492.0L1099.7 492.0L1101.7 492.0L1103.7 492.0L1105.7 492.0L1107.7 492.0L1109.7 492.0L1111.7 492.0L1113.7 492.0L1115.7 492.0L1117.7 492.0L1119.7 491.9L1121.7 491.9L1123.7 491.9L1125.7 491.9L1127.7 491.8L1129.7 491.8L1131.7 491.8L1133.7 491.8L1135.7 491.7L1137.7 491.7L1139.7 491.6L1141.7 491.6L1143.7 491.5L1145.7 491.5L1147.7 491.5L1149.7 491.4L1151.7 491.4L1153.7 491.3L1155.7 491.3L1157.7 491.2L1159.7 491.1L1161.7 491.1L1163.7 491.0L1165.7 491.0L1167.7 490.9L1169.7 490.9L1171.7 490.8L1173.7 490.8L1175.7 490.7L1177.7 490.7L1179.7 490.6L1181.7 490.6L1183.7 490.5L1185.7 490.5L1187.7 490.4L1189.7 490.4L1191.7 490.3L1193.7 490.3L1195.7 490.2L1197.7 490.2L1199.7 490.1L1201.7 490.1L1203.7 490.0L1205.7 490.0L1207.7 489.9L1209.7 489.9L1211.7 489.8L1213.7 489.8L1215.7 489.7L1217.7 489.7L1219.7 489.6L1221.7 489.6L1223.7 489.5L1225.7 489.5L1227.7 489.4L1229.7 489.4L1231.7 489.3L1233.7 489.2L1235.7 489.2L1237.7 489.1L1239.7 489.1L1241.7 489.0L1243.7 489.0L1245.7 488.9L1247.7 488.9L1249.7 488.8L1251.0 488.8" stroke="#140c82" stroke-width="4.3" fill="none" stroke-linejoin="round" stroke-linecap="round"/>
<path d="M1251.0 488.8L1266.0 501.0" stroke="#140c82" stroke-width="4.3" fill="none" stroke-linejoin="round" stroke-linecap="round"/>
<path d="M1266.0 501.0L1265.8 503.1L1263.8 504.0L1261.8 505.1L1259.8 506.3L1257.8 507.5L1255.8 508.8L1253.8 510.1L1251.8 511.4L1249.8 512.7L1247.8 513.9L1245.8 515.1L1243.8 516.2L1241.8 517.3L1239.8 518.3L1237.8 519.4L1235.8 520.4L1233.8 521.3L1231.8 522.2L1229.8 523.1L1227.8 524.0L1225.8 524.9L1223.8 525.7L1221.8 526.5L1219.8 527.3L1217.8 528.1L1215.8 528.8L1213.8 529.6L1211.8 530.3L1209.8 531.0L1207.8 531.7L1205.8 532.3L1203.8 533.0L1201.8 533.6L1199.8 534.2L1197.8 534.7L1195.8 535.3L1193.8 535.8L1191.8 536.4L1189.8 536.9L1187.8 537.4L1185.8 537.9L1183.8 538.4L1181.8 538.8L1179.8 539.3L1177.8 539.8L1175.8 540.3L1173.8 540.8L1171.8 541.4L1169.8 541.9L1167.8 542.4L1165.8 542.9L1163.8 543.4L1161.8 543.9L1159.8 544.4L1157.8 544.9L1155.8 545.3L1153.8 545.7L1151.8 546.1L1149.8 546.5L1147.8 546.9L1145.8 547.3L1143.8 547.6L1141.8 548.0L1139.8 548.3L1137.8 548.7L1135.8 549.0L1133.8 549.3L1131.8 549.7L1129.8 550.0L1127.8 550.3L1125.8 550.6L1123.8 550.9L1121.8 551.2L1119.8 551.5L1117.8 551.8L1115.8 552.1L1113.8 552.4L1111.8 552.7L1109.8 553.0L1107.8 553.3L1105.8 553.6L1103.8 553.9L1101.8 554.1L1099.8 554.4L1097.8 554.7L1095.8 555.0L1093.8 555.2L1091.8 555.5L1089.8 555.7L1087.8 556.0L1085.8 556.3L1083.8 556.5L1081.8 556.8L1079.8 557.0L1077.8 557.3L1075.8 557.5L1073.8 557.7L1071.8 558.0L1069.8 558.2L1067.8 558.5L1065.8 558.7L1063.8 558.9L1061.8 559.2L1059.8 559.4L1057.8 559.6L1055.8 559.8L1053.8 560.0L1051.8 560.3L1049.8 560.5L1047.8 560.7L1045.8 560.9L1043.8 561.1L1041.8 561.3L1039.8 561.5L1037.8 561.7L1035.8 561.9L1033.8 562.1L1031.8 562.3L1029.8 562.5L1027.8 562.6L1025.8 562.8L1023.8 563.0L1021.8 563.2L1019.8 563.3L1017.8 563.5L1015.8 563.7L1013.8 563.9L1011.8 564.0L1009.8 564.2L1007.8 564.4L1005.8 564.6L1003.8 564.8L1001.8 564.9L999.8 565.1L997.8 565.3L995.8 565.5L993.8 565.7L991.8 565.9L989.8 566.1L987.8 566.3L985.8 566.5L983.8 566.7L981.8 566.9L979.8 567.1L977.8 567.3L975.8 567.5L973.8 567.7L971.8 567.9L969.8 568.1L967.8 568.3L965.8 568.5L963.8 568.6L961.8 568.8L959.8 569.0L957.8 569.2L955.8 569.3L953.8 569.5L951.8 569.7L949.8 569.8L947.8 570.0L945.8 570.1L943.8 570.3L941.8 570.4L939.8 570.6L937.8 570.7L935.8 570.9L933.8 571.0L931.8 571.1L929.8 571.3L927.8 571.4L925.8 571.6L923.8 571.7L921.8 571.8L919.8 572.0L917.8 572.1L915.8 572.2L913.8 572.4L911.8 572.5L909.8 572.6L907.8 572.8L905.8 572.9L903.8 573.1L901.8 573.2L899.8 573.3L897.8 573.5L895.8 573.6L893.8 573.7L891.8 573.9L889.8 574.0L887.8 574.2L885.8 574.3L883.8 574.4L881.8 574.6L879.8 574.7L877.8 574.9L875.8 575.0L873.8 575.1L871.8 575.3L869.8 575.4L867.8 575.6L865.8 575.7L863.8 575.8L861.8 576.0L859.8 576.1L857.8 576.3L855.8 576.4L853.8 576.5L851.8 576.7L849.8 576.8L847.8 577.0L845.8 577.1L843.8 577.2L841.8 577.4L839.8 577.5L837.8 577.7L835.8 577.8L833.8 577.9L831.8 578.1L829.8 578.2L827.8 578.3L825.8 578.5L823.8 578.6L821.8 578.8L819.8 578.9L817.8 579.0L815.8 579.2L813.8 579.3L811.8 579.4L809.8 579.6L807.8 579.7L805.8 579.9L803.8 580.0L801.8 580.1L799.8 580.3L797.8 580.4L795.8 580.6L793.8 580.7L791.8 580.9L789.8 581.0L787.8 581.2L785.8 581.3L783.8 581.5L781.8 581.6L779.8 581.8L777.8 581.9L775.8 582.1L773.8 582.2L771.8 582.4L769.8 582.5L767.8 582.7L765.8 582.8L763.8 583.0L761.8 583.1L759.8 583.3L757.8 583.5L755.8 583.6L753.8 583.8L751.8 584.0L749.8 584.1L747.8 584.3L745.8 584.5L743.8 584.7L741.8 584.8L739.8 585.0L737.8 585.2L735.8 585.4L733.8 585.6L731.8 585.8L729.8 586.0L727.8 586.2L725.8 586.3L723.8 586.5L721.8 586.7L719.8 586.9L717.8 587.2L715.8 587.4L713.8 587.6L711.8 587.8L709.8 588.0L707.8 588.2L705.8 588.5L703.8 588.7L701.8 589.0L699.8 589.2L697.8 589.5L695.8 589.7L693.8 590.0L691.8 590.3L689.8 590.6L687.8 590.9L685.8 591.3L683.8 591.6L681.8 592.0L679.8 592.4L677.8 592.7L675.8 593.2L673.8 593.6L671.8 594.0L669.8 594.4L667.8 594.9L665.8 595.3L663.8 595.8L661.8 596.2L659.8 596.7L657.8 597.1L655.8 597.5L653.8 597.9L651.8 598.4L649.8 598.8L647.8 599.1L645.8 599.5L643.8 599.9L641.8 600.3L639.8 600.6L637.8 600.9L635.8 601.3L633.8 601.6L631.8 601.9L629.8 602.2L627.8 602.5L625.8 602.9L623.8 603.2L621.8 603.5L619.8 603.8L617.8 604.1L615.8 604.4L613.8 604.7L611.8 605.0L609.8 605.3L607.8 605.7L605.8 606.0L603.8 606.3L601.8 606.7L599.8 607.0L597.8 607.4L595.8 607.8L593.8 608.2L591.8 608.6L589.8 609.0L587.8 609.5L585.8 609.9L583.8 610.4L581.8 610.9L579.8 611.4L577.8 612.0L575.8 612.5L573.8 613.1L571.8 613.6L569.8 614.2L567.8 614.8L565.8 615.3L563.8 615.9L561.8 616.5L559.8 617.1L557.8 617.6L555.8 618.2L553.8 618.8L551.8 619.4L549.8 620.0L547.8 620.6L545.8 621.2L543.8 621.8L541.8 622.4L539.8 623.0L537.8 623.6L535.8 624.2L533.8 624.8L531.8 625.5L529.8 626.1L527.8 626.7L525.8 627.4L523.8 628.0L521.8 628.6L519.8 629.3L517.8 629.9L515.8 630.6L513.8 631.3L511.8 631.9L509.8 632.6L507.8 633.2L505.8 633.9L503.8 634.5L501.8 635.2L499.8 635.8L497.8 636.5L495.8 637.1L493.8 637.8L491.8 638.4L489.8 639.0L487.8 639.6L485.8 640.2L483.8 640.9L481.8 641.5L479.8 642.1L477.8 642.7L475.8 643.3L473.8 643.9L471.8 644.5L469.8 645.1L467.8 645.8L465.8 646.4L463.8 647.1L461.8 647.7L459.8 648.4L457.8 649.0L455.8 649.6L453.8 650.3L451.8 650.8L449.8 651.4L447.8 651.9L445.8 652.4L443.8 652.9L441.8 653.4L439.8 653.9L437.8 654.3L435.8 654.8L433.8 655.2L431.8 655.6L429.8 656.0L427.8 656.5L425.8 656.9L423.8 657.3L421.8 657.7L419.8 658.1L417.8 658.5L415.8 658.9L413.8 659.3L411.8 659.7L409.8 660.1L407.8 660.5L405.8 660.9L403.8 661.3L401.8 661.6L399.8 662.0L397.8 662.4L395.8 662.7L393.8 663.1L391.8 663.4L389.8 663.7L387.8 664.1L385.8 664.4L383.8 664.7L381.8 665.0L379.8 665.4L377.8 665.7L375.8 666.0L373.8 666.4L371.8 666.7L369.8 667.1L367.8 667.4L365.8 667.8L363.8 668.2L361.8 668.5L359.8 668.9L357.8 669.3L355.8 669.7L353.8 670.1L351.8 670.4L349.8 670.8L347.8 671.2L345.8 671.5L343.8 671.8L341.8 672.2L339.8 672.5L337.8 672.8L335.8 673.1L333.8 673.4L331.8 673.6L329.8 673.9L327.8 674.2L325.8 674.4L323.8 674.7L321.8 674.9L319.8 675.1L317.8 675.4L315.8 675.6L313.8 675.8L311.8 676.0L309.8 676.2L307.8 676.4L305.8 676.5L303.8 676.7L301.8 676.9L299.8 677.0L297.8 677.2L295.8 677.3L293.8 677.5L291.8 677.6L289.8 677.8L287.8 677.9L285.8 678.1L283.8 678.2L281.8 678.4L279.8 678.5L277.8 678.7L275.8 678.9L273.8 679.0L271.8 679.2L269.8 679.4L267.8 679.5L265.8 679.7L263.8 679.9L261.8 680.1L259.8 680.2L257.8 680.4L255.8 680.5L253.8 680.7L251.8 680.8L249.8 681.0L247.8 681.1L245.8 681.3L243.8 681.4L241.8 681.5L239.8 681.6L237.8 681.7L235.8 681.9L233.8 682.0L231.8 682.1L229.8 682.2L227.8 682.3L225.8 682.4L223.8 682.5L221.8 682.6L219.8 682.7L217.8 682.8L215.8 682.9L213.8 683.0L211.8 683.1L209.8 683.2L207.8 683.3L205.8 683.4L203.8 683.5L201.8 683.6L199.8 683.7L197.8 683.8L195.8 683.9L193.8 684.0L191.8 684.1L189.8 684.2L187.8 684.3L185.8 684.4L183.8 684.5L181.8 684.6L179.8 684.7L177.8 684.8L175.8 684.9L173.8 685.0L171.8 685.1L169.8 685.2L167.8 685.4L165.8 685.5L163.8 685.6L161.8 685.7L159.8 685.8L157.8 685.9L155.8 686.0L153.8 686.1L151.8 686.2L149.8 686.3L147.8 686.4L145.8 686.5L143.8 686.6L141.8 686.7L139.8 686.8L137.8 686.9L135.8 687.1" stroke="#140c82" stroke-width="4.3" fill="none" stroke-linejoin="round" stroke-linecap="round"/>
<path d="M122.7 654.3L124.7 653.9L126.7 653.8L128.7 653.6L130.7 653.4L132.7 653.2L134.7 653.0L136.7 652.8L138.7 652.6L140.7 652.4L142.7 652.2L144.7 652.0L146.7 651.8L148.7 651.6L150.7 651.4L152.7 651.2L154.7 651.0L156.7 650.9L158.7 650.7L160.7 650.5L162.7 650.3L164.7 650.1L166.7 649.9L168.7 649.8L170.7 649.6L172.7 649.4L174.7 649.3L176.7 649.1L178.7 649.0L180.7 648.9L182.7 648.8L184.7 648.6L186.7 648.5L188.7 648.4L190.7 648.3L192.7 648.2L194.7 648.2L196.7 648.1L198.7 648.0L200.7 647.9L202.7 647.8L204.7 647.7L206.7 647.6L208.7 647.4L210.7 647.3L212.7 647.2L214.7 647.1L216.7 647.0L218.7 646.8L220.7 646.7L222.7 646.6L224.7 646.4L226.7 646.3L228.7 646.1L230.7 646.0L232.7 645.8L234.7 645.6L236.7 645.5L238.7 645.3L240.7 645.0L242.7 644.8L244.7 644.6L246.7 644.3L248.7 644.0L250.7 643.8L252.7 643.5L254.7 643.2L256.7 642.8L258.7 642.5L260.7 642.2L262.7 641.9L264.7 641.5L266.7 641.1L268.7 640.8L270.7 640.4L272.7 640.0L274.7 639.6L276.7 639.1L278.7 638.6L280.7 638.1L282.7 637.6L284.7 637.1L286.7 636.5L288.7 635.9L290.7 635.4L292.7 634.8L294.7 634.2L296.7 633.7L298.7 633.1L300.7 632.5L302.7 632.0L304.7 631.5L306.7 630.9L308.7 630.4L310.7 629.9L312.7 629.4L314.7 628.9L316.7 628.4L318.7 627.8L320.7 627.3L322.7 626.8L324.7 626.2L326.7 625.5L328.7 624.9L330.7 624.1L332.7 623.3L334.7 622.4L336.7 621.4L338.7 620.4L340.7 619.3L342.7 618.1L344.7 616.9L346.7 615.6L348.7 614.3L350.7 613.0L352.7 611.6L354.7 610.2L356.7 608.7L358.7 607.3L360.7 605.8L362.7 604.3L364.7 602.9L366.7 601.4L368.7 599.9L370.7 598.5L372.7 597.0L374.7 595.6L376.7 594.1L378.7 592.5L380.7 591.0L382.7 589.4L384.7 587.7L386.7 585.9L388.2 584.6L389.7 583.2L391.2 581.8L392.7 580.4L394.2 579.0L395.7 577.5L397.2 576.1L398.7 574.7L400.2 573.4L401.7 572.1L403.7 570.3L405.7 568.6L407.7 566.9L409.7 565.1L411.2 563.8L412.7 562.4L414.2 561.1L415.7 559.6L417.2 558.2L418.7 556.7L420.2 555.1L421.7 553.6L423.2 552.1L424.7 550.5L426.2 549.0L427.7 547.5L429.2 546.0L430.7 544.6L432.2 543.1L433.7 541.6L435.2 540.2L436.7 538.7L438.2 537.1L439.7 535.6L441.2 534.0L442.7 532.3L444.2 530.7L445.7 529.0L447.2 527.3L448.7 525.6L450.2 523.8L451.7 522.1L453.2 520.4L454.7 518.8L456.2 517.1L457.7 515.5L459.2 513.8L460.7 512.2L462.2 510.6L463.7 509.1L465.2 507.5L466.7 505.9L468.2 504.4L469.7 502.8L471.2 501.3L472.7 499.8L474.2 498.3L475.7 496.8L477.2 495.3L478.7 493.9L480.2 492.4L481.7 491.0L483.2 489.6L484.7 488.2L486.2 486.8L487.7 485.5L489.7 483.7L491.7 482.0L493.7 480.4L495.7 478.7L497.7 477.1L499.7 475.6L501.7 474.1L503.7 472.6L505.7 471.2L507.7 469.8L509.7 468.4L511.7 467.1L513.7 465.8L515.7 464.5L517.7 463.3L519.7 462.1L521.7 461.0L523.7 459.9L525.7 458.8L527.7 457.8L529.7 456.9L531.7 456.0L533.7 455.2L535.7 454.4L537.7 453.6L539.7 452.9L541.7 452.2L543.7 451.5L545.7 450.9L547.7 450.3L549.7 449.7L551.7 449.2L553.7 448.7L555.7 448.3L557.7 447.9L559.7 447.5L561.7 447.2L563.7 446.9L565.7 446.6L567.7 446.4L569.7 446.1L571.7 445.9L573.7 445.7L575.7 445.5L577.7 445.4L579.7 445.3L581.7 445.3L583.7 445.4L585.7 445.6L587.7 445.8L589.7 446.1L591.7 446.5L593.7 447.0L595.7 447.5L597.7 448.1L599.7 448.7L601.7 449.3L603.7 450.0L605.7 450.7L607.7 451.3L609.7 452.0L611.7 452.7L613.7 453.3L615.7 454.0L617.7 454.6L619.7 455.2L621.7 455.8L623.7 456.4L625.7 457.0L627.7 457.6L629.7 458.2L631.7 458.8L633.7 459.4L635.7 460.0L637.7 460.6L639.7 461.3L641.7 461.9L643.7 462.5L645.7 463.1L647.7 463.8L649.7 464.4L651.7 465.0L653.7 465.6L655.7 466.2L657.7 466.8L659.7 467.4L661.7 468.0L663.7 468.6L665.7 469.2L667.7 469.8L669.7 470.4L671.7 470.9L673.7 471.5L675.7 472.1L677.7 472.6L679.7 473.2L681.7 473.7L683.7 474.3L685.7 474.8L687.7 475.4L689.7 476.0L691.7 476.5L693.7 477.1L695.7 477.7L697.7 478.3L699.7 478.9L701.7 479.5L703.7 480.1L705.7 480.7L707.7 481.4L709.7 482.0L711.7 482.6L713.7 483.2L715.7 483.9L717.7 484.5L719.7 485.1L721.7 485.7L723.7 486.3L725.7 486.9L727.7 487.5L729.7 488.1L731.7 488.7L733.7 489.2L735.7 489.8L737.7 490.3L739.7 490.9L741.7 491.4L743.7 491.9L745.7 492.5L747.7 493.0L749.7 493.5L751.7 494.0L753.7 494.5L755.7 495.0L757.7 495.5L759.7 496.0L761.7 496.5L763.7 497.0L765.7 497.5L767.7 497.9L769.7 498.4L771.7 498.8L773.7 499.3L775.7 499.7L777.7 500.1L779.7 500.5L781.7 500.9L783.7 501.3L785.7 501.7L787.7 502.0L789.7 502.4L791.7 502.7L793.7 503.1L795.7 503.4L797.7 503.7L799.7 504.0L801.7 504.3L803.7 504.6L805.7 504.8L807.7 505.1L809.7 505.4L811.7 505.6L813.7 505.9L815.7 506.1L817.7 506.4L819.7 506.6L821.7 506.9L823.7 507.1L825.7 507.4L827.7 507.6L829.7 507.8L831.7 508.1L833.7 508.3L835.7 508.5L837.7 508.7L839.7 509.0L841.7 509.2L843.7 509.4L845.7 509.7L847.7 509.9L849.7 510.1L851.7 510.4L853.7 510.6L855.7 510.8L857.7 511.0L859.7 511.3L861.7 511.5L863.7 511.7L865.7 511.9L867.7 512.1L869.7 512.3L871.7 512.5L873.7 512.7L875.7 512.9L877.7 513.1L879.7 513.2L881.7 513.4L883.7 513.5L885.7 513.7L887.7 513.8L889.7 513.9L891.7 514.1L893.7 514.2L895.7 514.3L897.7 514.4L899.7 514.4L901.7 514.5L903.7 514.6L905.7 514.7L907.7 514.8L909.7 514.8L911.7 514.9L913.7 515.0L915.7 515.0L917.7 515.1L919.7 515.2L921.7 515.2L923.7 515.3L925.7 515.4L927.7 515.4L929.7 515.5L931.7 515.5L933.7 515.6L935.7 515.6L937.7 515.7L939.7 515.8L941.7 515.8L943.7 515.9L945.7 516.0L947.7 516.0L949.7 516.1L951.7 516.2L953.7 516.3L955.7 516.3L957.7 516.4L959.7 516.5L961.7 516.6L963.7 516.7L965.7 516.8L967.7 516.9L969.7 517.0L971.7 517.2L973.7 517.3L975.7 517.4L977.7 517.5L979.7 517.7L981.7 517.8L983.7 518.0L985.7 518.1L987.7 518.2L989.7 518.4L991.7 518.5L993.7 518.7L995.7 518.8L997.7 519.0L999.7 519.1L1001.7 519.3L1003.7 519.4L1005.7 519.5L1007.7 519.7L1009.7 519.8L1011.7 519.9L1013.7 520.0L1015.7 520.2L1017.7 520.3L1019.7 520.4L1021.7 520.5L1023.7 520.6L1025.7 520.7L1027.7 520.7L1029.7 520.8L1031.7 520.9L1033.7 520.9L1035.7 521.0L1037.7 521.0L1039.7 521.1L1041.7 521.1L1043.7 521.2L1045.7 521.2L1047.7 521.3L1049.7 521.3L1051.7 521.3L1053.7 521.4L1055.7 521.4L1057.7 521.5L1059.7 521.5L1061.7 521.5L1063.7 521.6L1065.7 521.6L1067.7 521.6L1069.7 521.7L1071.7 521.7L1073.7 521.7L1075.7 521.7L1077.7 521.8L1079.7 521.8L1081.7 521.8L1083.7 521.8L1085.7 521.9L1087.7 521.9L1089.7 521.9L1091.7 521.9L1093.7 521.9L1095.7 521.9L1097.7 522.0L1099.7 522.0L1101.7 522.0L1103.7 522.0L1105.7 522.0L1107.7 522.0L1109.7 522.0L1111.7 522.0L1113.7 522.0L1115.7 522.0L1117.7 522.0L1119.7 522.0L1121.7 522.0L1123.7 521.9L1125.7 521.9L1127.7 521.9L1129.7 521.9L1131.7 521.9L1133.7 521.9L1135.7 521.8L1137.7 521.8L1139.7 521.8L1141.7 521.8L1143.7 521.7L1145.7 521.7L1147.7 521.7L1149.7 521.6L1151.7 521.6L1153.7 521.6L1155.7 521.5L1157.7 521.5L1159.7 521.5L1161.7 521.4L1163.7 521.4L1165.7 521.4L1167.7 521.3L1169.7 521.3L1171.7 521.3L1173.7 521.2L1175.7 521.2L1177.7 521.1L1179.7 521.1L1181.7 521.1L1183.7 521.0L1185.7 521.0L1187.7 520.9L1189.7 520.9L1191.7 520.9L1193.7 520.8L1195.7 520.8L1197.7 520.7L1199.7 520.7L1201.7 520.6L1203.7 520.6L1205.7 520.5L1207.7 520.5L1209.7 520.4L1211.7 520.3L1213.7 520.3L1215.7 520.2L1217.7 520.2L1219.7 520.1L1221.7 520.0L1223.7 520.0L1225.7 519.9L1227.7 519.8L1229.7 519.8L1231.7 519.7L1233.7 519.6L1235.7 519.6L1237.7 519.5L1239.7 519.4L1241.7 519.4L1243.7 519.3L1245.7 519.2L1247.7 519.2L1249.7 519.1L1251.0 519.0" stroke="#148414" stroke-width="4.3" fill="none" stroke-linejoin="round" stroke-linecap="round"/>
<path d="M1251.0 519.0L1264.0 527.5" stroke="#148414" stroke-width="4.3" fill="none" stroke-linejoin="round" stroke-linecap="round"/>
<path d="M1264.0 527.5L1263.8 529.2L1261.8 530.0L1259.8 530.8L1257.8 531.7L1255.8 532.8L1253.8 533.8L1251.8 534.8L1249.8 535.9L1247.8 536.9L1245.8 537.8L1243.8 538.8L1241.8 539.6L1239.8 540.5L1237.8 541.3L1235.8 542.1L1233.8 542.9L1231.8 543.6L1229.8 544.3L1227.8 545.0L1225.8 545.7L1223.8 546.3L1221.8 546.9L1219.8 547.5L1217.8 548.0L1215.8 548.6L1213.8 549.1L1211.8 549.6L1209.8 550.1L1207.8 550.6L1205.8 551.0L1203.8 551.5L1201.8 551.9L1199.8 552.3L1197.8 552.8L1195.8 553.2L1193.8 553.6L1191.8 554.0L1189.8 554.4L1187.8 554.7L1185.8 555.1L1183.8 555.5L1181.8 555.8L1179.8 556.2L1177.8 556.5L1175.8 556.8L1173.8 557.1L1171.8 557.4L1169.8 557.6L1167.8 557.9L1165.8 558.1L1163.8 558.4L1161.8 558.6L1159.8 558.8L1157.8 559.1L1155.8 559.3L1153.8 559.5L1151.8 559.8L1149.8 560.0L1147.8 560.2L1145.8 560.5L1143.8 560.7L1141.8 561.0L1139.8 561.2L1137.8 561.4L1135.8 561.7L1133.8 561.9L1131.8 562.1L1129.8 562.4L1127.8 562.6L1125.8 562.8L1123.8 563.1L1121.8 563.3L1119.8 563.5L1117.8 563.7L1115.8 564.0L1113.8 564.2L1111.8 564.4L1109.8 564.6L1107.8 564.9L1105.8 565.1L1103.8 565.3L1101.8 565.5L1099.8 565.8L1097.8 566.0L1095.8 566.2L1093.8 566.4L1091.8 566.6L1089.8 566.8L1087.8 567.0L1085.8 567.2L1083.8 567.4L1081.8 567.6L1079.8 567.8L1077.8 568.0L1075.8 568.2L1073.8 568.4L1071.8 568.5L1069.8 568.7L1067.8 568.9L1065.8 569.0L1063.8 569.2L1061.8 569.4L1059.8 569.6L1057.8 569.7L1055.8 569.9L1053.8 570.0L1051.8 570.2L1049.8 570.4L1047.8 570.5L1045.8 570.7L1043.8 570.8L1041.8 571.0L1039.8 571.1L1037.8 571.3L1035.8 571.4L1033.8 571.6L1031.8 571.7L1029.8 571.9L1027.8 572.0L1025.8 572.2L1023.8 572.3L1021.8 572.5L1019.8 572.6L1017.8 572.7L1015.8 572.9L1013.8 573.0L1011.8 573.2L1009.8 573.3L1007.8 573.4L1005.8 573.6L1003.8 573.7L1001.8 573.9L999.8 574.0L997.8 574.2L995.8 574.3L993.8 574.5L991.8 574.6L989.8 574.8L987.8 575.0L985.8 575.1L983.8 575.3L981.8 575.4L979.8 575.6L977.8 575.7L975.8 575.9L973.8 576.1L971.8 576.2L969.8 576.3L967.8 576.5L965.8 576.6L963.8 576.7L961.8 576.9L959.8 577.0L957.8 577.1L955.8 577.2L953.8 577.3L951.8 577.4L949.8 577.5L947.8 577.6L945.8 577.7L943.8 577.8L941.8 577.9L939.8 578.0L937.8 578.1L935.8 578.1L933.8 578.2L931.8 578.3L929.8 578.4L927.8 578.5L925.8 578.5L923.8 578.6L921.8 578.7L919.8 578.8L917.8 578.9L915.8 578.9L913.8 579.0L911.8 579.1L909.8 579.2L907.8 579.3L905.8 579.3L903.8 579.4L901.8 579.5L899.8 579.6L897.8 579.7L895.8 579.7L893.8 579.8L891.8 579.9L889.8 580.0L887.8 580.1L885.8 580.2L883.8 580.3L881.8 580.4L879.8 580.5L877.8 580.6L875.8 580.7L873.8 580.8L871.8 580.9L869.8 581.0L867.8 581.1L865.8 581.2L863.8 581.3L861.8 581.4L859.8 581.5L857.8 581.6L855.8 581.7L853.8 581.8L851.8 581.9L849.8 582.0L847.8 582.1L845.8 582.2L843.8 582.3L841.8 582.4L839.8 582.5L837.8 582.6L835.8 582.7L833.8 582.8L831.8 582.9L829.8 583.0L827.8 583.1L825.8 583.2L823.8 583.3L821.8 583.4L819.8 583.5L817.8 583.5L815.8 583.6L813.8 583.7L811.8 583.8L809.8 583.9L807.8 584.0L805.8 584.1L803.8 584.2L801.8 584.3L799.8 584.5L797.8 584.6L795.8 584.7L793.8 584.8L791.8 584.9L789.8 585.0L787.8 585.2L785.8 585.3L783.8 585.4L781.8 585.5L779.8 585.7L777.8 585.8L775.8 586.0L773.8 586.1L771.8 586.3L769.8 586.4L767.8 586.6L765.8 586.7L763.8 586.9L761.8 587.1L759.8 587.2L757.8 587.4L755.8 587.6L753.8 587.7L751.8 587.9L749.8 588.1L747.8 588.3L745.8 588.5L743.8 588.7L741.8 588.8L739.8 589.0L737.8 589.2L735.8 589.4L733.8 589.6L731.8 589.8L729.8 590.0L727.8 590.2L725.8 590.5L723.8 590.7L721.8 590.9L719.8 591.1L717.8 591.3L715.8 591.6L713.8 591.8L711.8 592.0L709.8 592.3L707.8 592.5L705.8 592.8L703.8 593.1L701.8 593.3L699.8 593.6L697.8 593.9L695.8 594.2L693.8 594.5L691.8 594.8L689.8 595.1L687.8 595.4L685.8 595.8L683.8 596.1L681.8 596.5L679.8 596.9L677.8 597.3L675.8 597.7L673.8 598.1L671.8 598.5L669.8 599.0L667.8 599.4L665.8 599.9L663.8 600.3L661.8 600.8L659.8 601.2L657.8 601.7L655.8 602.1L653.8 602.5L651.8 603.0L649.8 603.4L647.8 603.9L645.8 604.3L643.8 604.7L641.8 605.1L639.8 605.5L637.8 605.9L635.8 606.4L633.8 606.8L631.8 607.2L629.8 607.6L627.8 608.0L625.8 608.4L623.8 608.8L621.8 609.2L619.8 609.6L617.8 610.0L615.8 610.4L613.8 610.8L611.8 611.2L609.8 611.6L607.8 612.1L605.8 612.5L603.8 612.9L601.8 613.3L599.8 613.7L597.8 614.1L595.8 614.5L593.8 614.9L591.8 615.3L589.8 615.8L587.8 616.2L585.8 616.6L583.8 617.0L581.8 617.4L579.8 617.8L577.8 618.3L575.8 618.7L573.8 619.1L571.8 619.5L569.8 620.0L567.8 620.4L565.8 620.8L563.8 621.2L561.8 621.6L559.8 622.0L557.8 622.4L555.8 622.8L553.8 623.2L551.8 623.6L549.8 624.0L547.8 624.4L545.8 624.7L543.8 625.1L541.8 625.5L539.8 625.9L537.8 626.3L535.8 626.7L533.8 627.1L531.8 627.6L529.8 628.0L527.8 628.4L525.8 628.9L523.8 629.3L521.8 629.8L519.8 630.3L517.8 630.8L515.8 631.2L513.8 631.7L511.8 632.2L509.8 632.7L507.8 633.3L505.8 633.8L503.8 634.3L501.8 634.8L499.8 635.4L497.8 635.9L495.8 636.4L493.8 637.0L491.8 637.5L489.8 638.1L487.8 638.7L485.8 639.2L483.8 639.8L481.8 640.4L479.8 641.0L477.8 641.6L475.8 642.2L473.8 642.9L471.8 643.5L469.8 644.1L467.8 644.8L465.8 645.4L463.8 646.1L461.8 646.7L459.8 647.4L457.8 648.0L455.8 648.6L453.8 649.3L451.8 649.8L449.8 650.4L447.8 650.9L445.8 651.4L443.8 651.9L441.8 652.4L439.8 652.9L437.8 653.3L435.8 653.8L433.8 654.2L431.8 654.6L429.8 655.0L427.8 655.5L425.8 655.9L423.8 656.3L421.8 656.7L419.8 657.1L417.8 657.5L415.8 657.9L413.8 658.3L411.8 658.7L409.8 659.1L407.8 659.5L405.8 659.9L403.8 660.3L401.8 660.6L399.8 661.0L397.8 661.4L395.8 661.7L393.8 662.1L391.8 662.5L389.8 662.8L387.8 663.2L385.8 663.5L383.8 663.8L381.8 664.2L379.8 664.5L377.8 664.8L375.8 665.1L373.8 665.4L371.8 665.7L369.8 666.0L367.8 666.3L365.8 666.5L363.8 666.8L361.8 667.0L359.8 667.3L357.8 667.5L355.8 667.8L353.8 668.0L351.8 668.2L349.8 668.4L347.8 668.7L345.8 668.9L343.8 669.1L341.8 669.3L339.8 669.5L337.8 669.7L335.8 669.9L333.8 670.2L331.8 670.4L329.8 670.6L327.8 670.8L325.8 671.0L323.8 671.2L321.8 671.4L319.8 671.6L317.8 671.7L315.8 671.9L313.8 672.1L311.8 672.2L309.8 672.4L307.8 672.5L305.8 672.6L303.8 672.8L301.8 672.9L299.8 673.0L297.8 673.1L295.8 673.2L293.8 673.3L291.8 673.4L289.8 673.5L287.8 673.6L285.8 673.7L283.8 673.8L281.8 673.9L279.8 674.0L277.8 674.1L275.8 674.2L273.8 674.3L271.8 674.4L269.8 674.5L267.8 674.6L265.8 674.7L263.8 674.8L261.8 674.9L259.8 675.0L257.8 675.1L255.8 675.2L253.8 675.3L251.8 675.4L249.8 675.5L247.8 675.6L245.8 675.7L243.8 675.8L241.8 675.9L239.8 676.0L237.8 676.1L235.8 676.3L233.8 676.4L231.8 676.5L229.8 676.6L227.8 676.7L225.8 676.8L223.8 677.0L221.8 677.1L219.8 677.2L217.8 677.3L215.8 677.5L213.8 677.6L211.8 677.7L209.8 677.8L207.8 677.9L205.8 678.0L203.8 678.2L201.8 678.3L199.8 678.4L197.8 678.5L195.8 678.6L193.8 678.7L191.8 678.8L189.8 678.9L187.8 678.9L185.8 679.0L183.8 679.1L181.8 679.2L179.8 679.2L177.8 679.3L175.8 679.3L173.8 679.4L171.8 679.5L169.8 679.5L167.8 679.6L165.8 679.6L163.8 679.7L161.8 679.7L159.8 679.7L157.8 679.8L155.8 679.8L153.8 679.9L151.8 679.9L149.8 679.9L147.8 680.0L145.8 680.0L143.8 680.0L141.8 680.0L139.8 680.1L137.8 680.1L135.8 680.1" stroke="#148414" stroke-width="4.3" fill="none" stroke-linejoin="round" stroke-linecap="round"/>
<path d="M122.7 656.2L124.7 655.9L126.7 655.8L128.7 655.6L130.7 655.5L132.7 655.4L134.7 655.2L136.7 655.0L138.7 654.9L140.7 654.7L142.7 654.6L144.7 654.4L146.7 654.3L148.7 654.1L150.7 653.9L152.7 653.8L154.7 653.6L156.7 653.4L158.7 653.3L160.7 653.1L162.7 653.0L164.7 652.8L166.7 652.7L168.7 652.5L170.7 652.4L172.7 652.3L174.7 652.2L176.7 652.1L178.7 652.0L180.7 652.0L182.7 651.9L184.7 651.9L186.7 651.8L188.7 651.8L190.7 651.8L192.7 651.7L194.7 651.7L196.7 651.7L198.7 651.6L200.7 651.6L202.7 651.6L204.7 651.5L206.7 651.5L208.7 651.5L210.7 651.5L212.7 651.4L214.7 651.4L216.7 651.4L218.7 651.4L220.7 651.3L222.7 651.3L224.7 651.3L226.7 651.2L228.7 651.2L230.7 651.1L232.7 651.1L234.7 651.0L236.7 651.0L238.7 650.9L240.7 650.8L242.7 650.6L244.7 650.5L246.7 650.3L248.7 650.1L250.7 649.9L252.7 649.7L254.7 649.4L256.7 649.1L258.7 648.9L260.7 648.6L262.7 648.3L264.7 648.0L266.7 647.7L268.7 647.3L270.7 647.0L272.7 646.6L274.7 646.3L276.7 645.9L278.7 645.5L280.7 645.1L282.7 644.6L284.7 644.2L286.7 643.7L288.7 643.2L290.7 642.7L292.7 642.1L294.7 641.5L296.7 641.0L298.7 640.4L300.7 639.8L302.7 639.2L304.7 638.6L306.7 638.1L308.7 637.6L310.7 637.1L312.7 636.6L314.7 636.1L316.7 635.7L318.7 635.3L320.7 634.8L322.7 634.4L324.7 633.9L326.7 633.5L328.7 633.0L330.7 632.5L332.7 631.9L334.7 631.3L336.7 630.7L338.7 630.1L340.7 629.5L342.7 628.8L344.7 628.1L346.7 627.4L348.7 626.6L350.7 625.8L352.7 625.0L354.7 624.2L356.7 623.3L358.7 622.4L360.7 621.5L362.7 620.5L364.7 619.5L366.7 618.4L368.7 617.4L370.7 616.2L372.7 615.1L374.7 613.9L376.7 612.6L378.7 611.4L380.7 610.1L382.7 608.8L384.7 607.5L386.7 606.2L388.7 604.9L390.7 603.6L392.7 602.3L394.7 601.0L396.7 599.6L398.7 598.3L400.7 596.9L402.7 595.5L404.7 594.1L406.7 592.7L408.7 591.3L410.7 589.9L412.7 588.5L414.7 587.0L416.7 585.6L418.7 584.1L420.7 582.7L422.7 581.2L424.7 579.8L426.7 578.3L428.7 576.9L430.7 575.4L432.7 574.0L434.7 572.6L436.7 571.2L438.7 569.8L440.7 568.5L442.7 567.1L444.7 565.8L446.7 564.5L448.7 563.3L450.7 562.0L452.7 560.8L454.7 559.7L456.7 558.5L458.7 557.4L460.7 556.3L462.7 555.2L464.7 554.2L466.7 553.2L468.7 552.2L470.7 551.2L472.7 550.3L474.7 549.4L476.7 548.5L478.7 547.7L480.7 546.8L482.7 546.0L484.7 545.2L486.7 544.5L488.7 543.8L490.7 543.0L492.7 542.4L494.7 541.7L496.7 541.1L498.7 540.5L500.7 539.9L502.7 539.3L504.7 538.8L506.7 538.3L508.7 537.8L510.7 537.3L512.7 536.9L514.7 536.5L516.7 536.2L518.7 535.9L520.7 535.6L522.7 535.4L524.7 535.2L526.7 535.0L528.7 534.8L530.7 534.7L532.7 534.6L534.7 534.5L536.7 534.4L538.7 534.4L540.7 534.3L542.7 534.3L544.7 534.4L546.7 534.4L548.7 534.5L550.7 534.6L552.7 534.7L554.7 534.9L556.7 535.1L558.7 535.3L560.7 535.6L562.7 535.9L564.7 536.3L566.7 536.6L568.7 537.0L570.7 537.4L572.7 537.8L574.7 538.1L576.7 538.5L578.7 538.8L580.7 539.1L582.7 539.4L584.7 539.7L586.7 540.0L588.7 540.3L590.7 540.6L592.7 541.0L594.7 541.4L596.7 541.8L598.7 542.3L600.7 542.8L602.7 543.3L604.7 543.8L606.7 544.3L608.7 544.8L610.7 545.2L612.7 545.7L614.7 546.1L616.7 546.5L618.7 546.8L620.7 547.2L622.7 547.4L624.7 547.7L626.7 548.0L628.7 548.2L630.7 548.4L632.7 548.7L634.7 548.9L636.7 549.2L638.7 549.4L640.7 549.7L642.7 550.0L644.7 550.3L646.7 550.6L648.7 550.9L650.7 551.3L652.7 551.7L654.7 552.0L656.7 552.4L658.7 552.8L660.7 553.2L662.7 553.6L664.7 554.0L666.7 554.4L668.7 554.8L670.7 555.2L672.7 555.5L674.7 555.8L676.7 556.1L678.7 556.4L680.7 556.7L682.7 556.9L684.7 557.2L686.7 557.4L688.7 557.5L690.7 557.7L692.7 557.9L694.7 558.0L696.7 558.1L698.7 558.3L700.7 558.4L702.7 558.6L704.7 558.7L706.7 558.9L708.7 559.1L710.7 559.3L712.7 559.5L714.7 559.8L716.7 560.0L718.7 560.3L720.7 560.6L722.7 560.9L724.7 561.2L726.7 561.5L728.7 561.8L730.7 562.1L732.7 562.4L734.7 562.7L736.7 563.0L738.7 563.3L740.7 563.5L742.7 563.8L744.7 564.0L746.7 564.2L748.7 564.4L750.7 564.6L752.7 564.8L754.7 565.0L756.7 565.2L758.7 565.4L760.7 565.6L762.7 565.8L764.7 566.0L766.7 566.1L768.7 566.3L770.7 566.5L772.7 566.7L774.7 566.8L776.7 567.0L778.7 567.1L780.7 567.3L782.7 567.4L784.7 567.6L786.7 567.7L788.7 567.9L790.7 568.0L792.7 568.2L794.7 568.3L796.7 568.5L798.7 568.6L800.7 568.7L802.7 568.9L804.7 569.0L806.7 569.2L808.7 569.3L810.7 569.4L812.7 569.5L814.7 569.7L816.7 569.8L818.7 569.9L820.7 570.0L822.7 570.1L824.7 570.3L826.7 570.4L828.7 570.5L830.7 570.6L832.7 570.7L834.7 570.8L836.7 570.8L838.7 570.9L840.7 571.0L842.7 571.1L844.7 571.2L846.7 571.2L848.7 571.3L850.7 571.4L852.7 571.4L854.7 571.5L856.7 571.6L858.7 571.6L860.7 571.7L862.7 571.7L864.7 571.8L866.7 571.9L868.7 571.9L870.7 572.0L872.7 572.0L874.7 572.1L876.7 572.1L878.7 572.2L880.7 572.2L882.7 572.3L884.7 572.4L886.7 572.4L888.7 572.5L890.7 572.5L892.7 572.6L894.7 572.6L896.7 572.7L898.7 572.8L900.7 572.8L902.7 572.9L904.7 572.9L906.7 573.0L908.7 573.1L910.7 573.1L912.7 573.2L914.7 573.2L916.7 573.3L918.7 573.4L920.7 573.4L922.7 573.5L924.7 573.5L926.7 573.6L928.7 573.7L930.7 573.7L932.7 573.8L934.7 573.8L936.7 573.9L938.7 573.9L940.7 574.0L942.7 574.1L944.7 574.1L946.7 574.2L948.7 574.2L950.7 574.3L952.7 574.3L954.7 574.4L956.7 574.4L958.7 574.5L960.7 574.5L962.7 574.6L964.7 574.6L966.7 574.7L968.7 574.7L970.7 574.8L972.7 574.8L974.7 574.9L976.7 574.9L978.7 575.0L980.7 575.0L982.7 575.1L984.7 575.1L986.7 575.2L988.7 575.2L990.7 575.3L992.7 575.3L994.7 575.4L996.7 575.4L998.7 575.5L1000.7 575.5L1002.7 575.6L1004.7 575.6L1006.7 575.7L1008.7 575.7L1010.7 575.7L1012.7 575.8L1014.7 575.8L1016.7 575.8L1018.7 575.9L1020.7 575.9L1022.7 575.9L1024.7 575.9L1026.7 576.0L1028.7 576.0L1030.7 576.0L1032.7 576.0L1034.7 576.0L1036.7 576.0L1038.7 576.0L1040.7 576.0L1042.7 576.0L1044.7 576.0L1046.7 576.0L1048.7 576.0L1050.7 576.0L1052.7 576.0L1054.7 576.0L1056.7 576.0L1058.7 576.0L1060.7 576.0L1062.7 576.0L1064.7 576.0L1066.7 576.0L1068.7 576.0L1070.7 576.0L1072.7 576.0L1074.7 576.0L1076.7 576.0L1078.7 576.0L1080.7 576.0L1082.7 576.0L1084.7 576.0L1086.7 576.0L1088.7 576.0L1090.7 576.0L1092.7 576.0L1094.7 576.0L1096.7 576.0L1098.7 576.0L1100.7 576.0L1102.7 576.0L1104.7 576.0L1106.7 576.0L1108.7 576.0L1110.7 576.0L1112.7 576.0L1114.7 576.0L1116.7 576.0L1118.7 576.0L1120.7 576.0L1122.7 576.0L1124.7 576.0L1126.7 576.0L1128.7 575.9L1130.7 575.9L1132.7 575.9L1134.7 575.9L1136.7 575.9L1138.7 575.9L1140.7 575.9L1142.7 575.9L1144.7 575.8L1146.7 575.8L1148.7 575.8L1150.7 575.8L1152.7 575.8L1154.7 575.8L1156.7 575.7L1158.7 575.7L1160.7 575.7L1162.7 575.7L1164.7 575.7L1166.7 575.6L1168.7 575.6L1170.7 575.6L1172.7 575.6L1174.7 575.6L1176.7 575.6L1178.7 575.5L1180.7 575.5L1182.7 575.5L1184.7 575.5L1186.7 575.5L1188.7 575.5L1190.7 575.5L1192.7 575.4L1194.7 575.4L1196.7 575.4L1198.7 575.4L1200.7 575.4L1202.7 575.3L1204.7 575.3L1206.7 575.3L1208.7 575.3L1210.7 575.3L1212.7 575.2L1214.7 575.2L1216.7 575.2L1218.7 575.2L1220.7 575.2L1222.7 575.2L1224.7 575.1L1226.7 575.1L1228.7 575.1L1230.7 575.1L1232.7 575.1L1234.7 575.1L1236.7 575.1L1238.7 575.0L1240.7 575.0L1242.7 575.1L1244.7 575.1L1246.7 575.2L1248.7 575.3L1250.7 575.4L1252.7 575.6L1254.7 575.9L1256.7 576.2L1258.7 576.5L1260.7 576.8L1262.7 577.1L1264.0 578.0" stroke="#ea18ea" stroke-width="4.3" fill="none" stroke-linejoin="round" stroke-linecap="round"/>
<path d="M1264.0 578.0L1263.8 579.3L1261.8 579.8L1259.8 580.4L1257.8 581.1L1255.8 581.8L1253.8 582.6L1251.8 583.3L1249.8 584.0L1247.8 584.6L1245.8 585.3L1243.8 585.9L1241.8 586.4L1239.8 586.9L1237.8 587.4L1235.8 587.9L1233.8 588.3L1231.8 588.8L1229.8 589.2L1227.8 589.6L1225.8 590.0L1223.8 590.3L1221.8 590.7L1219.8 591.0L1217.8 591.3L1215.8 591.6L1213.8 591.9L1211.8 592.2L1209.8 592.5L1207.8 592.7L1205.8 593.0L1203.8 593.2L1201.8 593.4L1199.8 593.7L1197.8 593.9L1195.8 594.1L1193.8 594.3L1191.8 594.5L1189.8 594.7L1187.8 594.9L1185.8 595.1L1183.8 595.3L1181.8 595.4L1179.8 595.6L1177.8 595.8L1175.8 595.9L1173.8 596.1L1171.8 596.3L1169.8 596.4L1167.8 596.6L1165.8 596.7L1163.8 596.9L1161.8 597.0L1159.8 597.2L1157.8 597.3L1155.8 597.5L1153.8 597.6L1151.8 597.8L1149.8 597.9L1147.8 598.1L1145.8 598.2L1143.8 598.4L1141.8 598.5L1139.8 598.6L1137.8 598.8L1135.8 598.9L1133.8 599.1L1131.8 599.2L1129.8 599.4L1127.8 599.5L1125.8 599.7L1123.8 599.8L1121.8 600.0L1119.8 600.1L1117.8 600.3L1115.8 600.4L1113.8 600.5L1111.8 600.7L1109.8 600.8L1107.8 601.0L1105.8 601.1L1103.8 601.2L1101.8 601.4L1099.8 601.5L1097.8 601.6L1095.8 601.8L1093.8 601.9L1091.8 602.0L1089.8 602.2L1087.8 602.3L1085.8 602.4L1083.8 602.6L1081.8 602.7L1079.8 602.8L1077.8 602.9L1075.8 603.1L1073.8 603.2L1071.8 603.3L1069.8 603.4L1067.8 603.5L1065.8 603.7L1063.8 603.8L1061.8 603.9L1059.8 604.0L1057.8 604.1L1055.8 604.2L1053.8 604.4L1051.8 604.5L1049.8 604.6L1047.8 604.7L1045.8 604.8L1043.8 604.9L1041.8 605.1L1039.8 605.2L1037.8 605.3L1035.8 605.4L1033.8 605.5L1031.8 605.6L1029.8 605.7L1027.8 605.9L1025.8 606.0L1023.8 606.1L1021.8 606.2L1019.8 606.3L1017.8 606.4L1015.8 606.5L1013.8 606.6L1011.8 606.8L1009.8 606.9L1007.8 607.0L1005.8 607.1L1003.8 607.2L1001.8 607.3L999.8 607.4L997.8 607.5L995.8 607.6L993.8 607.7L991.8 607.8L989.8 607.9L987.8 607.9L985.8 608.0L983.8 608.1L981.8 608.2L979.8 608.3L977.8 608.4L975.8 608.4L973.8 608.5L971.8 608.6L969.8 608.7L967.8 608.7L965.8 608.8L963.8 608.9L961.8 608.9L959.8 609.0L957.8 609.1L955.8 609.1L953.8 609.2L951.8 609.2L949.8 609.3L947.8 609.3L945.8 609.4L943.8 609.4L941.8 609.4L939.8 609.5L937.8 609.5L935.8 609.6L933.8 609.6L931.8 609.6L929.8 609.7L927.8 609.7L925.8 609.8L923.8 609.8L921.8 609.8L919.8 609.9L917.8 609.9L915.8 609.9L913.8 610.0L911.8 610.0L909.8 610.1L907.8 610.1L905.8 610.1L903.8 610.2L901.8 610.2L899.8 610.3L897.8 610.3L895.8 610.4L893.8 610.4L891.8 610.5L889.8 610.5L887.8 610.6L885.8 610.6L883.8 610.7L881.8 610.7L879.8 610.8L877.8 610.9L875.8 610.9L873.8 611.0L871.8 611.1L869.8 611.1L867.8 611.2L865.8 611.3L863.8 611.3L861.8 611.4L859.8 611.5L857.8 611.6L855.8 611.6L853.8 611.7L851.8 611.8L849.8 611.9L847.8 611.9L845.8 612.0L843.8 612.1L841.8 612.2L839.8 612.2L837.8 612.3L835.8 612.4L833.8 612.5L831.8 612.5L829.8 612.6L827.8 612.7L825.8 612.8L823.8 612.9L821.8 612.9L819.8 613.0L817.8 613.1L815.8 613.2L813.8 613.2L811.8 613.3L809.8 613.4L807.8 613.5L805.8 613.6L803.8 613.6L801.8 613.7L799.8 613.8L797.8 613.9L795.8 614.0L793.8 614.0L791.8 614.1L789.8 614.2L787.8 614.3L785.8 614.4L783.8 614.4L781.8 614.5L779.8 614.6L777.8 614.7L775.8 614.8L773.8 614.9L771.8 614.9L769.8 615.0L767.8 615.1L765.8 615.2L763.8 615.3L761.8 615.4L759.8 615.4L757.8 615.5L755.8 615.6L753.8 615.7L751.8 615.8L749.8 615.9L747.8 615.9L745.8 616.0L743.8 616.1L741.8 616.2L739.8 616.3L737.8 616.3L735.8 616.4L733.8 616.5L731.8 616.6L729.8 616.6L727.8 616.7L725.8 616.8L723.8 616.9L721.8 616.9L719.8 617.0L717.8 617.1L715.8 617.2L713.8 617.2L711.8 617.3L709.8 617.4L707.8 617.5L705.8 617.5L703.8 617.6L701.8 617.7L699.8 617.8L697.8 617.9L695.8 617.9L693.8 618.0L691.8 618.1L689.8 618.2L687.8 618.3L685.8 618.4L683.8 618.5L681.8 618.6L679.8 618.7L677.8 618.8L675.8 618.9L673.8 619.0L671.8 619.1L669.8 619.2L667.8 619.3L665.8 619.4L663.8 619.6L661.8 619.7L659.8 619.8L657.8 620.0L655.8 620.1L653.8 620.3L651.8 620.4L649.8 620.6L647.8 620.8L645.8 620.9L643.8 621.1L641.8 621.3L639.8 621.5L637.8 621.7L635.8 621.9L633.8 622.1L631.8 622.3L629.8 622.5L627.8 622.7L625.8 622.9L623.8 623.1L621.8 623.3L619.8 623.5L617.8 623.8L615.8 624.0L613.8 624.2L611.8 624.5L609.8 624.7L607.8 624.9L605.8 625.1L603.8 625.4L601.8 625.6L599.8 625.8L597.8 626.1L595.8 626.3L593.8 626.6L591.8 626.8L589.8 627.0L587.8 627.3L585.8 627.5L583.8 627.8L581.8 628.0L579.8 628.3L577.8 628.6L575.8 628.8L573.8 629.1L571.8 629.4L569.8 629.6L567.8 629.9L565.8 630.2L563.8 630.5L561.8 630.8L559.8 631.0L557.8 631.3L555.8 631.6L553.8 631.9L551.8 632.2L549.8 632.5L547.8 632.8L545.8 633.0L543.8 633.3L541.8 633.6L539.8 633.9L537.8 634.2L535.8 634.5L533.8 634.8L531.8 635.1L529.8 635.4L527.8 635.7L525.8 636.0L523.8 636.3L521.8 636.6L519.8 636.9L517.8 637.2L515.8 637.5L513.8 637.8L511.8 638.1L509.8 638.4L507.8 638.7L505.8 639.0L503.8 639.3L501.8 639.6L499.8 639.9L497.8 640.3L495.8 640.6L493.8 641.0L491.8 641.3L489.8 641.7L487.8 642.1L485.8 642.5L483.8 643.0L481.8 643.4L479.8 643.8L477.8 644.3L475.8 644.7L473.8 645.1L471.8 645.6L469.8 646.0L467.8 646.4L465.8 646.8L463.8 647.1L461.8 647.5L459.8 647.9L457.8 648.2L455.8 648.5L453.8 648.9L451.8 649.2L449.8 649.4L447.8 649.7L445.8 650.0L443.8 650.2L441.8 650.5L439.8 650.7L437.8 651.0L435.8 651.2L433.8 651.5L431.8 651.7L429.8 652.0L427.8 652.3L425.8 652.5L423.8 652.8L421.8 653.1L419.8 653.4L417.8 653.7L415.8 654.0L413.8 654.3L411.8 654.6L409.8 655.0L407.8 655.3L405.8 655.6L403.8 655.9L401.8 656.2L399.8 656.5L397.8 656.8L395.8 657.1L393.8 657.5L391.8 657.8L389.8 658.1L387.8 658.4L385.8 658.7L383.8 659.0L381.8 659.3L379.8 659.6L377.8 659.9L375.8 660.2L373.8 660.5L371.8 660.7L369.8 661.0L367.8 661.3L365.8 661.5L363.8 661.8L361.8 662.0L359.8 662.3L357.8 662.5L355.8 662.7L353.8 663.0L351.8 663.2L349.8 663.4L347.8 663.7L345.8 663.9L343.8 664.1L341.8 664.3L339.8 664.5L337.8 664.7L335.8 664.9L333.8 665.1L331.8 665.3L329.8 665.5L327.8 665.7L325.8 665.9L323.8 666.0L321.8 666.2L319.8 666.4L317.8 666.6L315.8 666.7L313.8 666.9L311.8 667.0L309.8 667.2L307.8 667.3L305.8 667.5L303.8 667.6L301.8 667.7L299.8 667.9L297.8 668.0L295.8 668.1L293.8 668.2L291.8 668.4L289.8 668.5L287.8 668.6L285.8 668.7L283.8 668.8L281.8 668.9L279.8 669.0L277.8 669.1L275.8 669.2L273.8 669.3L271.8 669.4L269.8 669.5L267.8 669.5L265.8 669.6L263.8 669.7L261.8 669.8L259.8 669.9L257.8 670.0L255.8 670.1L253.8 670.1L251.8 670.2L249.8 670.3L247.8 670.4L245.8 670.5L243.8 670.6L241.8 670.8L239.8 670.9L237.8 671.0L235.8 671.2L233.8 671.3L231.8 671.5L229.8 671.6L227.8 671.8L225.8 671.9L223.8 672.1L221.8 672.3L219.8 672.5L217.8 672.6L215.8 672.8L213.8 673.0L211.8 673.2L209.8 673.4L207.8 673.5L205.8 673.7L203.8 673.9L201.8 674.0L199.8 674.2L197.8 674.4L195.8 674.5L193.8 674.6L191.8 674.8L189.8 674.9L187.8 675.0L185.8 675.1L183.8 675.2L181.8 675.3L179.8 675.4L177.8 675.5L175.8 675.5L173.8 675.6L171.8 675.7L169.8 675.7L167.8 675.8L165.8 675.8L163.8 675.9L161.8 675.9L159.8 676.0L157.8 676.0L155.8 676.1L153.8 676.1L151.8 676.1L149.8 676.2L147.8 676.2L145.8 676.2L143.8 676.2L141.8 676.3L139.8 676.3L137.8 676.3L135.8 676.3" stroke="#ea18ea" stroke-width="4.3" fill="none" stroke-linejoin="round" stroke-linecap="round"/>
<text x="99.2" y="31.4" text-anchor="end" class="t">-7.0</text>
<text x="99.2" y="123.3" text-anchor="end" class="t">-6.0</text>
<text x="99.2" y="214.0" text-anchor="end" class="t">-5.0</text>
<text x="99.2" y="304.7" text-anchor="end" class="t">-4.0</text>
<text x="99.2" y="395.4" text-anchor="end" class="t">-3.0</text>
<text x="99.2" y="486.1" text-anchor="end" class="t">-2.0</text>
<text x="99.2" y="576.8" text-anchor="end" class="t">-1.0</text>
<text x="99.2" y="667.5" text-anchor="end" class="t">0</text>
<text x="99.2" y="758.2" text-anchor="end" class="t">1.0</text>
<text x="124.6" y="799" text-anchor="middle" class="t">0</text>
<text x="255.8" y="799" text-anchor="middle" class="t">0.1</text>
<text x="398.4" y="799" text-anchor="middle" class="t">0.2</text>
<text x="542.0" y="799" text-anchor="middle" class="t">0.3</text>
<text x="684.0" y="799" text-anchor="middle" class="t">0.4</text>
<text x="827.0" y="799" text-anchor="middle" class="t">0.5</text>
<text x="970.0" y="799" text-anchor="middle" class="t">0.6</text>
<text x="1112.0" y="799" text-anchor="middle" class="t">0.7</text>
<text x="1256.0" y="799" text-anchor="middle" class="t">0.8</text>
<text x="490" y="839.5" class="ti">Potential/V (vs. Ag/AgCl)</text>
<text transform="translate(31.3,289.8) rotate(-90)" text-anchor="end" class="ti">Current/µA</text>
<text x="595" y="66.5" text-anchor="middle" class="lb" textLength="36" lengthAdjust="spacingAndGlyphs">(h)</text>
<text x="400.5" y="645" text-anchor="middle" class="lb" textLength="36" lengthAdjust="spacingAndGlyphs">(a)</text>
</g>
</svg>
</body></html>
